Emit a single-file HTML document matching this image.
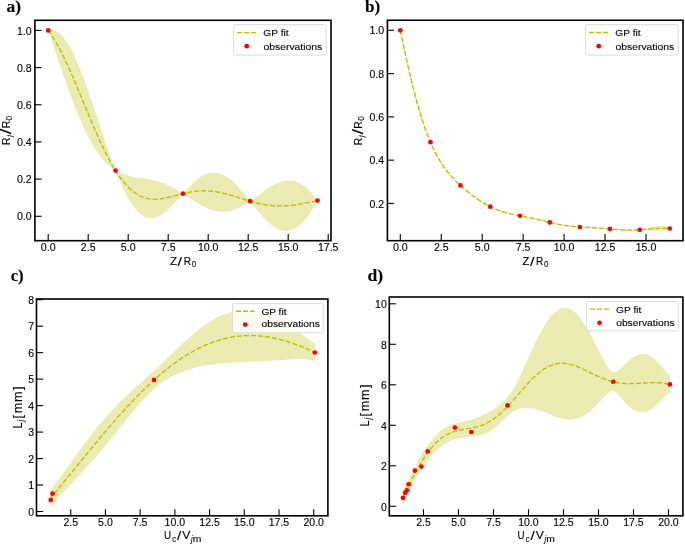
<!DOCTYPE html>
<html><head><meta charset="utf-8"><title>Gaussian process fits</title>
<style>html,body{margin:0;padding:0;background:#fff;}svg{display:block;}</style></head>
<body><svg width="685" height="544" viewBox="0 0 685 544">
<filter id="soft" x="0" y="0" width="1" height="1"><feGaussianBlur stdDeviation="0.25"/></filter>
<g filter="url(#soft)">
<rect width="685" height="544" fill="#fff"/>
<path d="M48.20,30.40 49.10,30.16 50.00,30.01 50.90,29.94 51.80,29.95 52.70,30.04 53.60,30.22 54.50,30.48 55.40,30.82 56.31,31.24 57.21,31.75 58.11,32.33 59.01,33.00 59.91,33.74 60.81,34.56 61.71,35.47 62.61,36.44 63.51,37.50 64.41,38.63 65.31,39.84 66.21,41.11 67.11,42.46 68.01,43.89 68.91,45.38 69.81,46.93 70.72,48.56 71.62,50.25 72.52,52.01 73.42,53.82 74.32,55.70 75.22,57.64 76.12,59.63 77.02,61.68 77.92,63.78 78.82,65.93 79.72,68.13 80.62,70.38 81.52,72.68 82.42,75.02 83.32,77.40 84.22,79.82 85.12,82.27 86.03,84.76 86.93,87.28 87.83,89.84 88.73,92.42 89.63,95.02 90.53,97.65 91.43,100.30 92.33,102.97 93.23,105.65 94.13,108.35 95.03,111.06 95.93,113.78 96.83,116.50 97.73,119.23 98.63,121.96 99.53,124.69 100.43,127.42 101.34,130.14 102.24,132.85 103.14,135.55 104.04,138.24 104.94,140.91 105.84,143.57 106.74,146.21 107.64,148.83 108.54,151.42 109.44,153.98 110.34,156.52 111.24,159.03 112.14,161.50 113.04,163.95 113.94,166.35 114.84,168.72 115.75,170.68 116.65,171.21 117.55,171.71 118.45,172.18 119.35,172.62 120.25,173.04 121.15,173.43 122.05,173.80 122.95,174.15 123.85,174.48 124.75,174.78 125.65,175.07 126.55,175.33 127.45,175.58 128.35,175.82 129.25,176.04 130.15,176.25 131.06,176.44 131.96,176.62 132.86,176.79 133.76,176.96 134.66,177.11 135.56,177.26 136.46,177.40 137.36,177.54 138.26,177.68 139.16,177.81 140.06,177.94 140.96,178.07 141.86,178.20 142.76,178.33 143.66,178.46 144.56,178.60 145.47,178.74 146.37,178.88 147.27,179.03 148.17,179.19 149.07,179.36 149.97,179.53 150.87,179.71 151.77,179.90 152.67,180.10 153.57,180.30 154.47,180.52 155.37,180.75 156.27,181.00 157.17,181.25 158.07,181.52 158.97,181.79 159.87,182.09 160.78,182.39 161.68,182.71 162.58,183.04 163.48,183.38 164.38,183.74 165.28,184.11 166.18,184.49 167.08,184.89 167.98,185.30 168.88,185.72 169.78,186.16 170.68,186.60 171.58,187.06 172.48,187.53 173.38,188.02 174.28,188.51 175.18,189.01 176.09,189.53 176.99,190.05 177.89,190.58 178.79,191.12 179.69,191.67 180.59,192.23 181.49,192.79 182.39,193.36 183.29,193.28 184.19,192.27 185.09,191.27 185.99,190.28 186.89,189.30 187.79,188.34 188.69,187.39 189.59,186.45 190.50,185.54 191.40,184.64 192.30,183.76 193.20,182.91 194.10,182.08 195.00,181.28 195.90,180.50 196.80,179.75 197.70,179.04 198.60,178.35 199.50,177.70 200.40,177.08 201.30,176.49 202.20,175.94 203.10,175.43 204.00,174.96 204.90,174.52 205.81,174.12 206.71,173.76 207.61,173.44 208.51,173.17 209.41,172.93 210.31,172.74 211.21,172.59 212.11,172.48 213.01,172.42 213.91,172.39 214.81,172.42 215.71,172.48 216.61,172.59 217.51,172.74 218.41,172.93 219.31,173.17 220.21,173.45 221.12,173.77 222.02,174.13 222.92,174.53 223.82,174.98 224.72,175.46 225.62,175.99 226.52,176.55 227.42,177.15 228.32,177.78 229.22,178.45 230.12,179.16 231.02,179.90 231.92,180.67 232.82,181.48 233.72,182.31 234.62,183.18 235.53,184.07 236.43,184.99 237.33,185.93 238.23,186.90 239.13,187.89 240.03,188.90 240.93,189.93 241.83,190.98 242.73,192.05 243.63,193.13 244.53,194.22 245.43,195.33 246.33,196.44 247.23,197.57 248.13,198.70 249.03,199.83 249.93,200.97 250.84,200.71 251.74,200.07 252.64,199.43 253.54,198.78 254.44,198.13 255.34,197.47 256.24,196.80 257.14,196.13 258.04,195.47 258.94,194.80 259.84,194.13 260.74,193.47 261.64,192.80 262.54,192.15 263.44,191.50 264.34,190.85 265.25,190.22 266.15,189.59 267.05,188.98 267.95,188.37 268.85,187.78 269.75,187.21 270.65,186.65 271.55,186.10 272.45,185.58 273.35,185.07 274.25,184.58 275.15,184.12 276.05,183.68 276.95,183.26 277.85,182.86 278.75,182.50 279.65,182.15 280.56,181.84 281.46,181.55 282.36,181.30 283.26,181.07 284.16,180.88 285.06,180.72 285.96,180.59 286.86,180.50 287.76,180.44 288.66,180.41 289.56,180.42 290.46,180.47 291.36,180.56 292.26,180.68 293.16,180.84 294.06,181.05 294.96,181.29 295.87,181.57 296.77,181.89 297.67,182.25 298.57,182.65 299.47,183.09 300.37,183.58 301.27,184.10 302.17,184.67 303.07,185.28 303.97,185.93 304.87,186.62 305.77,187.35 306.67,188.13 307.57,188.94 308.47,189.80 309.37,190.70 310.28,191.64 311.18,192.62 312.08,193.64 312.98,194.70 313.88,195.80 314.78,196.94 315.68,198.12 316.58,199.34 317.48,200.59 317.48,200.60 316.58,202.22 315.68,203.82 314.78,205.38 313.88,206.90 312.98,208.38 312.08,209.82 311.18,211.21 310.28,212.57 309.37,213.88 308.47,215.15 307.57,216.37 306.67,217.54 305.77,218.67 304.87,219.76 303.97,220.79 303.07,221.78 302.17,222.72 301.27,223.61 300.37,224.44 299.47,225.23 298.57,225.97 297.67,226.66 296.77,227.29 295.87,227.88 294.96,228.41 294.06,228.89 293.16,229.32 292.26,229.70 291.36,230.02 290.46,230.30 289.56,230.52 288.66,230.70 287.76,230.82 286.86,230.89 285.96,230.91 285.06,230.88 284.16,230.80 283.26,230.68 282.36,230.50 281.46,230.28 280.56,230.01 279.65,229.70 278.75,229.34 277.85,228.93 276.95,228.48 276.05,227.99 275.15,227.46 274.25,226.89 273.35,226.28 272.45,225.63 271.55,224.94 270.65,224.21 269.75,223.46 268.85,222.67 267.95,221.84 267.05,220.99 266.15,220.11 265.25,219.19 264.34,218.26 263.44,217.29 262.54,216.31 261.64,215.30 260.74,214.27 259.84,213.23 258.94,212.17 258.04,211.09 257.14,210.00 256.24,208.89 255.34,207.78 254.44,206.65 253.54,205.52 252.64,204.39 251.74,203.25 250.84,202.11 249.93,201.33 249.03,201.95 248.13,202.55 247.23,203.14 246.33,203.72 245.43,204.28 244.53,204.83 243.63,205.37 242.73,205.88 241.83,206.38 240.93,206.86 240.03,207.32 239.13,207.76 238.23,208.18 237.33,208.58 236.43,208.96 235.53,209.32 234.62,209.65 233.72,209.96 232.82,210.25 231.92,210.51 231.02,210.75 230.12,210.96 229.22,211.15 228.32,211.31 227.42,211.45 226.52,211.56 225.62,211.65 224.72,211.71 223.82,211.75 222.92,211.76 222.02,211.75 221.12,211.71 220.21,211.64 219.31,211.55 218.41,211.44 217.51,211.30 216.61,211.14 215.71,210.95 214.81,210.74 213.91,210.51 213.01,210.25 212.11,209.98 211.21,209.68 210.31,209.36 209.41,209.03 208.51,208.67 207.61,208.29 206.71,207.90 205.81,207.49 204.90,207.06 204.00,206.61 203.10,206.15 202.20,205.68 201.30,205.19 200.40,204.69 199.50,204.18 198.60,203.66 197.70,203.12 196.80,202.58 195.90,202.03 195.00,201.47 194.10,200.91 193.20,200.34 192.30,199.76 191.40,199.18 190.50,198.60 189.59,198.02 188.69,197.43 187.79,196.84 186.89,196.26 185.99,195.67 185.09,195.09 184.19,194.51 183.29,193.93 182.39,194.29 181.49,195.31 180.59,196.32 179.69,197.34 178.79,198.36 177.89,199.37 176.99,200.37 176.09,201.37 175.18,202.35 174.28,203.33 173.38,204.29 172.48,205.23 171.58,206.16 170.68,207.07 169.78,207.95 168.88,208.81 167.98,209.64 167.08,210.45 166.18,211.23 165.28,211.97 164.38,212.68 163.48,213.36 162.58,214.00 161.68,214.60 160.78,215.16 159.87,215.68 158.97,216.15 158.07,216.58 157.17,216.97 156.27,217.30 155.37,217.59 154.47,217.82 153.57,218.00 152.67,218.13 151.77,218.20 150.87,218.22 149.97,218.18 149.07,218.08 148.17,217.92 147.27,217.70 146.37,217.43 145.47,217.09 144.56,216.68 143.66,216.22 142.76,215.69 141.86,215.10 140.96,214.45 140.06,213.73 139.16,212.94 138.26,212.09 137.36,211.18 136.46,210.20 135.56,209.16 134.66,208.05 133.76,206.88 132.86,205.65 131.96,204.35 131.06,202.99 130.15,201.56 129.25,200.08 128.35,198.53 127.45,196.92 126.55,195.26 125.65,193.53 124.75,191.75 123.85,189.91 122.95,188.02 122.05,186.07 121.15,184.07 120.25,182.02 119.35,179.92 118.45,177.77 117.55,175.57 116.65,173.33 115.75,171.04 114.84,170.12 113.94,169.53 113.04,168.91 112.14,168.26 111.24,167.57 110.34,166.85 109.44,166.10 108.54,165.30 107.64,164.47 106.74,163.61 105.84,162.70 104.94,161.76 104.04,160.77 103.14,159.75 102.24,158.69 101.34,157.58 100.43,156.44 99.53,155.25 98.63,154.02 97.73,152.75 96.83,151.44 95.93,150.08 95.03,148.68 94.13,147.24 93.23,145.76 92.33,144.23 91.43,142.66 90.53,141.05 89.63,139.39 88.73,137.70 87.83,135.96 86.93,134.18 86.03,132.36 85.12,130.49 84.22,128.59 83.32,126.65 82.42,124.67 81.52,122.65 80.62,120.60 79.72,118.50 78.82,116.37 77.92,114.21 77.02,112.01 76.12,109.77 75.22,107.51 74.32,105.21 73.42,102.88 72.52,100.52 71.62,98.14 70.72,95.72 69.81,93.28 68.91,90.82 68.01,88.33 67.11,85.82 66.21,83.29 65.31,80.74 64.41,78.16 63.51,75.58 62.61,72.97 61.71,70.36 60.81,67.73 59.91,65.08 59.01,62.43 58.11,59.77 57.21,57.11 56.31,54.43 55.40,51.76 54.50,49.08 53.60,46.40 52.70,43.72 51.80,41.05 50.90,38.38 50.00,35.71 49.10,33.05 48.20,30.40Z" fill="#ececb2"/>
<path d="M48.20,30.40 49.10,31.61 50.00,32.86 50.90,34.16 51.80,35.50 52.70,36.88 53.60,38.31 54.50,39.78 55.40,41.29 56.31,42.84 57.21,44.43 58.11,46.05 59.01,47.71 59.91,49.41 60.81,51.14 61.71,52.91 62.61,54.71 63.51,56.54 64.41,58.40 65.31,60.29 66.21,62.20 67.11,64.14 68.01,66.11 68.91,68.10 69.81,70.11 70.72,72.14 71.62,74.19 72.52,76.26 73.42,78.35 74.32,80.46 75.22,82.57 76.12,84.70 77.02,86.84 77.92,88.99 78.82,91.15 79.72,93.32 80.62,95.49 81.52,97.67 82.42,99.84 83.32,102.02 84.22,104.20 85.12,106.38 86.03,108.56 86.93,110.73 87.83,112.90 88.73,115.06 89.63,117.21 90.53,119.35 91.43,121.48 92.33,123.60 93.23,125.71 94.13,127.80 95.03,129.87 95.93,131.93 96.83,133.97 97.73,135.99 98.63,137.99 99.53,139.97 100.43,141.93 101.34,143.86 102.24,145.77 103.14,147.65 104.04,149.51 104.94,151.34 105.84,153.14 106.74,154.91 107.64,156.65 108.54,158.36 109.44,160.04 110.34,161.69 111.24,163.30 112.14,164.88 113.04,166.43 113.94,167.94 114.84,169.42 115.75,170.86 116.65,172.27 117.55,173.64 118.45,174.97 119.35,176.27 120.25,177.53 121.15,178.75 122.05,179.94 122.95,181.08 123.85,182.19 124.75,183.27 125.65,184.30 126.55,185.30 127.45,186.25 128.35,187.17 129.25,188.06 130.15,188.90 131.06,189.71 131.96,190.49 132.86,191.22 133.76,191.92 134.66,192.58 135.56,193.21 136.46,193.80 137.36,194.36 138.26,194.89 139.16,195.38 140.06,195.83 140.96,196.26 141.86,196.65 142.76,197.01 143.66,197.34 144.56,197.64 145.47,197.91 146.37,198.15 147.27,198.37 148.17,198.56 149.07,198.72 149.97,198.85 150.87,198.96 151.77,199.05 152.67,199.11 153.57,199.15 154.47,199.17 155.37,199.17 156.27,199.15 157.17,199.11 158.07,199.05 158.97,198.97 159.87,198.88 160.78,198.78 161.68,198.65 162.58,198.52 163.48,198.37 164.38,198.21 165.28,198.04 166.18,197.86 167.08,197.67 167.98,197.47 168.88,197.27 169.78,197.05 170.68,196.83 171.58,196.61 172.48,196.38 173.38,196.15 174.28,195.92 175.18,195.68 176.09,195.45 176.99,195.21 177.89,194.98 178.79,194.74 179.69,194.51 180.59,194.28 181.49,194.05 182.39,193.82 183.29,193.60 184.19,193.39 185.09,193.18 185.99,192.98 186.89,192.78 187.79,192.59 188.69,192.41 189.59,192.23 190.50,192.07 191.40,191.91 192.30,191.76 193.20,191.62 194.10,191.49 195.00,191.38 195.90,191.27 196.80,191.17 197.70,191.08 198.60,191.00 199.50,190.94 200.40,190.89 201.30,190.84 202.20,190.81 203.10,190.79 204.00,190.78 204.90,190.79 205.81,190.80 206.71,190.83 207.61,190.87 208.51,190.92 209.41,190.98 210.31,191.05 211.21,191.14 212.11,191.23 213.01,191.34 213.91,191.45 214.81,191.58 215.71,191.72 216.61,191.86 217.51,192.02 218.41,192.19 219.31,192.36 220.21,192.54 221.12,192.74 222.02,192.94 222.92,193.15 223.82,193.36 224.72,193.59 225.62,193.82 226.52,194.05 227.42,194.30 228.32,194.55 229.22,194.80 230.12,195.06 231.02,195.32 231.92,195.59 232.82,195.86 233.72,196.14 234.62,196.41 235.53,196.69 236.43,196.97 237.33,197.26 238.23,197.54 239.13,197.83 240.03,198.11 240.93,198.40 241.83,198.68 242.73,198.96 243.63,199.25 244.53,199.53 245.43,199.81 246.33,200.08 247.23,200.35 248.13,200.62 249.03,200.89 249.93,201.15 250.84,201.41 251.74,201.66 252.64,201.91 253.54,202.15 254.44,202.39 255.34,202.62 256.24,202.85 257.14,203.07 258.04,203.28 258.94,203.48 259.84,203.68 260.74,203.87 261.64,204.05 262.54,204.23 263.44,204.40 264.34,204.55 265.25,204.71 266.15,204.85 267.05,204.98 267.95,205.11 268.85,205.22 269.75,205.33 270.65,205.43 271.55,205.52 272.45,205.60 273.35,205.67 274.25,205.74 275.15,205.79 276.05,205.83 276.95,205.87 277.85,205.90 278.75,205.92 279.65,205.92 280.56,205.93 281.46,205.92 282.36,205.90 283.26,205.88 284.16,205.84 285.06,205.80 285.96,205.75 286.86,205.69 287.76,205.63 288.66,205.55 289.56,205.47 290.46,205.39 291.36,205.29 292.26,205.19 293.16,205.08 294.06,204.97 294.96,204.85 295.87,204.72 296.77,204.59 297.67,204.45 298.57,204.31 299.47,204.16 300.37,204.01 301.27,203.85 302.17,203.69 303.07,203.53 303.97,203.36 304.87,203.19 305.77,203.01 306.67,202.84 307.57,202.66 308.47,202.47 309.37,202.29 310.28,202.10 311.18,201.92 312.08,201.73 312.98,201.54 313.88,201.35 314.78,201.16 315.68,200.97 316.58,200.78 317.48,200.59" fill="none" stroke="#bfbf00" stroke-width="1.35" stroke-dasharray="5.0,2.05"/>
<circle cx="48.20" cy="30.40" r="2.35" fill="#ff0000"/>
<circle cx="115.56" cy="170.57" r="2.35" fill="#ff0000"/>
<circle cx="182.92" cy="193.69" r="2.35" fill="#ff0000"/>
<circle cx="250.12" cy="201.20" r="2.35" fill="#ff0000"/>
<circle cx="317.48" cy="200.59" r="2.35" fill="#ff0000"/>
<rect x="233.60" y="24.70" width="92.50" height="30.40" rx="2" fill="#fff" fill-opacity="0.8" stroke="#dcdcdc" stroke-width="1"/>
<line x1="237.10" y1="32.55" x2="256.25" y2="32.55" stroke="#bfbf00" stroke-width="1.35" stroke-dasharray="5.0,2.05"/>
<circle cx="246.70" cy="46.20" r="2.35" fill="#ff0000"/>
<rect x="34.90" y="20.30" width="296.10" height="220.40" fill="none" stroke="#000" stroke-width="1.6"/>
<line x1="48.20" y1="240.70" x2="48.20" y2="234.10" stroke="#000" stroke-width="1.1"/>
<line x1="88.20" y1="240.70" x2="88.20" y2="234.10" stroke="#000" stroke-width="1.1"/>
<line x1="128.20" y1="240.70" x2="128.20" y2="234.10" stroke="#000" stroke-width="1.1"/>
<line x1="168.20" y1="240.70" x2="168.20" y2="234.10" stroke="#000" stroke-width="1.1"/>
<line x1="208.20" y1="240.70" x2="208.20" y2="234.10" stroke="#000" stroke-width="1.1"/>
<line x1="248.20" y1="240.70" x2="248.20" y2="234.10" stroke="#000" stroke-width="1.1"/>
<line x1="288.20" y1="240.70" x2="288.20" y2="234.10" stroke="#000" stroke-width="1.1"/>
<line x1="328.20" y1="240.70" x2="328.20" y2="234.10" stroke="#000" stroke-width="1.1"/>
<line x1="34.90" y1="216.30" x2="41.50" y2="216.30" stroke="#000" stroke-width="1.1"/>
<line x1="34.90" y1="179.12" x2="41.50" y2="179.12" stroke="#000" stroke-width="1.1"/>
<line x1="34.90" y1="141.94" x2="41.50" y2="141.94" stroke="#000" stroke-width="1.1"/>
<line x1="34.90" y1="104.76" x2="41.50" y2="104.76" stroke="#000" stroke-width="1.1"/>
<line x1="34.90" y1="67.58" x2="41.50" y2="67.58" stroke="#000" stroke-width="1.1"/>
<line x1="34.90" y1="30.40" x2="41.50" y2="30.40" stroke="#000" stroke-width="1.1"/>
<path d="M400.30,30.30 400.98,33.23 401.65,36.16 402.33,39.10 403.00,42.05 403.68,45.00 404.35,47.94 405.03,50.89 405.70,53.82 406.38,56.75 407.05,59.67 407.73,62.57 408.40,65.46 409.08,68.34 409.75,71.19 410.43,74.03 411.11,76.84 411.78,79.62 412.46,82.38 413.13,85.11 413.81,87.82 414.48,90.49 415.16,93.13 415.83,95.73 416.51,98.30 417.18,100.84 417.86,103.33 418.53,105.79 419.21,108.21 419.88,110.59 420.56,112.93 421.23,115.22 421.91,117.48 422.59,119.69 423.26,121.86 423.94,123.98 424.61,126.06 425.29,128.10 425.96,130.09 426.64,132.04 427.31,133.94 427.99,135.80 428.66,137.62 429.34,139.39 430.01,141.11 430.69,142.73 431.36,144.19 432.04,145.62 432.72,147.01 433.39,148.37 434.07,149.71 434.74,151.01 435.42,152.28 436.09,153.52 436.77,154.73 437.44,155.92 438.12,157.08 438.79,158.22 439.47,159.33 440.14,160.42 440.82,161.49 441.49,162.53 442.17,163.56 442.84,164.56 443.52,165.55 444.20,166.51 444.87,167.46 445.55,168.39 446.22,169.30 446.90,170.19 447.57,171.08 448.25,171.94 448.92,172.79 449.60,173.63 450.27,174.45 450.95,175.26 451.62,176.06 452.30,176.85 452.97,177.62 453.65,178.38 454.33,179.13 455.00,179.87 455.68,180.60 456.35,181.33 457.03,182.04 457.70,182.74 458.38,183.43 459.05,184.11 459.73,184.78 460.40,185.44 461.08,186.01 461.75,186.57 462.43,187.13 463.10,187.68 463.78,188.22 464.45,188.76 465.13,189.30 465.81,189.83 466.48,190.36 467.16,190.88 467.83,191.40 468.51,191.92 469.18,192.44 469.86,192.95 470.53,193.46 471.21,193.97 471.88,194.48 472.56,194.98 473.23,195.48 473.91,195.98 474.58,196.47 475.26,196.96 475.94,197.45 476.61,197.93 477.29,198.41 477.96,198.89 478.64,199.36 479.31,199.83 479.99,200.30 480.66,200.76 481.34,201.22 482.01,201.67 482.69,202.11 483.36,202.55 484.04,202.99 484.71,203.42 485.39,203.84 486.07,204.25 486.74,204.66 487.42,205.07 488.09,205.46 488.77,205.85 489.44,206.23 490.12,206.60 490.79,206.92 491.47,207.22 492.14,207.51 492.82,207.79 493.49,208.07 494.17,208.34 494.84,208.61 495.52,208.87 496.19,209.12 496.87,209.37 497.55,209.61 498.22,209.85 498.90,210.08 499.57,210.30 500.25,210.53 500.92,210.74 501.60,210.96 502.27,211.17 502.95,211.37 503.62,211.57 504.30,211.77 504.97,211.96 505.65,212.15 506.32,212.34 507.00,212.53 507.68,212.71 508.35,212.89 509.03,213.07 509.70,213.24 510.38,213.41 511.05,213.59 511.73,213.76 512.40,213.92 513.08,214.09 513.75,214.26 514.43,214.42 515.10,214.58 515.78,214.75 516.45,214.91 517.13,215.07 517.80,215.23 518.48,215.39 519.16,215.55 519.83,215.71 520.51,215.83 521.18,215.94 521.86,216.04 522.53,216.15 523.21,216.26 523.88,216.37 524.56,216.48 525.23,216.60 525.91,216.71 526.58,216.83 527.26,216.95 527.93,217.07 528.61,217.20 529.29,217.33 529.96,217.46 530.64,217.59 531.31,217.73 531.99,217.87 532.66,218.01 533.34,218.16 534.01,218.31 534.69,218.46 535.36,218.61 536.04,218.77 536.71,218.94 537.39,219.10 538.06,219.27 538.74,219.44 539.42,219.61 540.09,219.79 540.77,219.96 541.44,220.14 542.12,220.32 542.79,220.51 543.47,220.69 544.14,220.88 544.82,221.06 545.49,221.25 546.17,221.44 546.84,221.63 547.52,221.82 548.19,222.00 548.87,222.19 549.54,222.38 550.22,222.54 550.90,222.67 551.57,222.80 552.25,222.93 552.92,223.06 553.60,223.18 554.27,223.31 554.95,223.43 555.62,223.55 556.30,223.67 556.97,223.79 557.65,223.91 558.32,224.02 559.00,224.14 559.67,224.25 560.35,224.36 561.03,224.47 561.70,224.58 562.38,224.69 563.05,224.79 563.73,224.89 564.40,225.00 565.08,225.10 565.75,225.20 566.43,225.30 567.10,225.39 567.78,225.49 568.45,225.58 569.13,225.68 569.80,225.77 570.48,225.86 571.15,225.95 571.83,226.04 572.51,226.13 573.18,226.22 573.86,226.30 574.53,226.38 575.21,226.47 575.88,226.55 576.56,226.63 577.23,226.71 577.91,226.79 578.58,226.87 579.26,226.94 579.93,227.01 580.61,227.02 581.28,227.03 581.96,227.04 582.64,227.05 583.31,227.05 583.99,227.06 584.66,227.06 585.34,227.07 586.01,227.08 586.69,227.08 587.36,227.09 588.04,227.10 588.71,227.11 589.39,227.12 590.06,227.14 590.74,227.15 591.41,227.17 592.09,227.19 592.76,227.22 593.44,227.24 594.12,227.27 594.79,227.31 595.47,227.34 596.14,227.38 596.82,227.43 597.49,227.48 598.17,227.53 598.84,227.58 599.52,227.64 600.19,227.70 600.87,227.77 601.54,227.84 602.22,227.91 602.89,227.99 603.57,228.07 604.25,228.15 604.92,228.24 605.60,228.32 606.27,228.42 606.95,228.51 607.62,228.61 608.30,228.70 608.97,228.81 609.65,228.91 610.32,228.96 611.00,228.97 611.67,228.98 612.35,228.99 613.02,228.99 613.70,229.00 614.38,229.01 615.05,229.01 615.73,229.02 616.40,229.02 617.08,229.03 617.75,229.03 618.43,229.04 619.10,229.04 619.78,229.05 620.45,229.05 621.13,229.06 621.80,229.07 622.48,229.08 623.15,229.08 623.83,229.09 624.50,229.11 625.18,229.12 625.86,229.13 626.53,229.15 627.21,229.16 627.88,229.18 628.56,229.20 629.23,229.23 629.91,229.25 630.58,229.28 631.26,229.30 631.93,229.33 632.61,229.36 633.28,229.40 633.96,229.43 634.63,229.47 635.31,229.51 635.99,229.55 636.66,229.60 637.34,229.64 638.01,229.69 638.69,229.74 639.36,229.79 640.04,229.77 640.71,229.63 641.39,229.49 642.06,229.34 642.74,229.18 643.41,229.02 644.09,228.86 644.76,228.69 645.44,228.52 646.11,228.35 646.79,228.18 647.47,228.01 648.14,227.84 648.82,227.67 649.49,227.50 650.17,227.33 650.84,227.17 651.52,227.01 652.19,226.86 652.87,226.72 653.54,226.58 654.22,226.45 654.89,226.34 655.57,226.23 656.24,226.13 656.92,226.05 657.60,225.99 658.27,225.93 658.95,225.90 659.62,225.88 660.30,225.88 660.97,225.90 661.65,225.94 662.32,226.01 663.00,226.10 663.67,226.21 664.35,226.35 665.02,226.51 665.70,226.71 666.37,226.93 667.05,227.18 667.73,227.47 668.40,227.79 669.08,228.14 669.75,228.52 669.75,228.53 669.08,228.79 668.40,229.03 667.73,229.26 667.05,229.47 666.37,229.66 665.70,229.84 665.02,230.00 664.35,230.14 663.67,230.27 663.00,230.38 662.32,230.48 661.65,230.57 660.97,230.64 660.30,230.70 659.62,230.76 658.95,230.80 658.27,230.83 657.60,230.85 656.92,230.87 656.24,230.87 655.57,230.87 654.89,230.86 654.22,230.85 653.54,230.82 652.87,230.80 652.19,230.77 651.52,230.73 650.84,230.69 650.17,230.65 649.49,230.60 648.82,230.55 648.14,230.50 647.47,230.45 646.79,230.40 646.11,230.34 645.44,230.29 644.76,230.23 644.09,230.17 643.41,230.12 642.74,230.06 642.06,230.00 641.39,229.95 640.71,229.89 640.04,229.84 639.36,229.90 638.69,230.03 638.01,230.15 637.34,230.26 636.66,230.36 635.99,230.46 635.31,230.55 634.63,230.63 633.96,230.70 633.28,230.76 632.61,230.82 631.93,230.86 631.26,230.90 630.58,230.93 629.91,230.95 629.23,230.96 628.56,230.97 627.88,230.96 627.21,230.95 626.53,230.94 625.86,230.91 625.18,230.88 624.50,230.84 623.83,230.79 623.15,230.74 622.48,230.68 621.80,230.61 621.13,230.54 620.45,230.47 619.78,230.39 619.10,230.31 618.43,230.22 617.75,230.13 617.08,230.03 616.40,229.94 615.73,229.84 615.05,229.74 614.38,229.64 613.70,229.53 613.02,229.43 612.35,229.32 611.67,229.22 611.00,229.11 610.32,229.01 609.65,228.95 608.97,228.94 608.30,228.93 607.62,228.91 606.95,228.90 606.27,228.88 605.60,228.86 604.92,228.84 604.25,228.82 603.57,228.80 602.89,228.77 602.22,228.75 601.54,228.72 600.87,228.69 600.19,228.66 599.52,228.63 598.84,228.60 598.17,228.56 597.49,228.52 596.82,228.48 596.14,228.44 595.47,228.40 594.79,228.36 594.12,228.31 593.44,228.26 592.76,228.22 592.09,228.17 591.41,228.11 590.74,228.06 590.06,228.01 589.39,227.95 588.71,227.89 588.04,227.83 587.36,227.77 586.69,227.71 586.01,227.65 585.34,227.58 584.66,227.52 583.99,227.45 583.31,227.38 582.64,227.31 581.96,227.24 581.28,227.17 580.61,227.09 579.93,227.02 579.26,227.00 578.58,226.98 577.91,226.96 577.23,226.94 576.56,226.92 575.88,226.89 575.21,226.86 574.53,226.83 573.86,226.79 573.18,226.75 572.51,226.71 571.83,226.66 571.15,226.60 570.48,226.54 569.80,226.48 569.13,226.41 568.45,226.33 567.78,226.26 567.10,226.17 566.43,226.08 565.75,225.99 565.08,225.89 564.40,225.78 563.73,225.67 563.05,225.56 562.38,225.44 561.70,225.31 561.03,225.18 560.35,225.05 559.67,224.91 559.00,224.76 558.32,224.61 557.65,224.46 556.97,224.30 556.30,224.14 555.62,223.98 554.95,223.81 554.27,223.64 553.60,223.47 552.92,223.29 552.25,223.11 551.57,222.93 550.90,222.75 550.22,222.57 549.54,222.40 548.87,222.27 548.19,222.13 547.52,221.99 546.84,221.85 546.17,221.71 545.49,221.57 544.82,221.43 544.14,221.29 543.47,221.14 542.79,220.99 542.12,220.85 541.44,220.70 540.77,220.55 540.09,220.40 539.42,220.25 538.74,220.10 538.06,219.94 537.39,219.79 536.71,219.64 536.04,219.48 535.36,219.33 534.69,219.17 534.01,219.02 533.34,218.86 532.66,218.70 531.99,218.55 531.31,218.39 530.64,218.23 529.96,218.07 529.29,217.92 528.61,217.76 527.93,217.60 527.26,217.44 526.58,217.29 525.91,217.13 525.23,216.97 524.56,216.81 523.88,216.66 523.21,216.50 522.53,216.34 521.86,216.18 521.18,216.02 520.51,215.87 519.83,215.72 519.16,215.61 518.48,215.51 517.80,215.40 517.13,215.29 516.45,215.18 515.78,215.06 515.10,214.95 514.43,214.83 513.75,214.71 513.08,214.59 512.40,214.46 511.73,214.33 511.05,214.19 510.38,214.05 509.70,213.91 509.03,213.76 508.35,213.60 507.68,213.44 507.00,213.28 506.32,213.10 505.65,212.92 504.97,212.74 504.30,212.54 503.62,212.34 502.95,212.13 502.27,211.92 501.60,211.69 500.92,211.46 500.25,211.22 499.57,210.97 498.90,210.72 498.22,210.45 497.55,210.18 496.87,209.89 496.19,209.60 495.52,209.30 494.84,209.00 494.17,208.68 493.49,208.35 492.82,208.02 492.14,207.68 491.47,207.33 490.79,206.97 490.12,206.62 489.44,206.30 488.77,205.99 488.09,205.66 487.42,205.33 486.74,204.99 486.07,204.64 485.39,204.28 484.71,203.92 484.04,203.54 483.36,203.17 482.69,202.78 482.01,202.38 481.34,201.98 480.66,201.57 479.99,201.15 479.31,200.72 478.64,200.28 477.96,199.84 477.29,199.39 476.61,198.93 475.94,198.46 475.26,197.98 474.58,197.49 473.91,197.00 473.23,196.50 472.56,195.99 471.88,195.47 471.21,194.95 470.53,194.42 469.86,193.87 469.18,193.32 468.51,192.77 467.83,192.20 467.16,191.63 466.48,191.05 465.81,190.46 465.13,189.86 464.45,189.25 463.78,188.64 463.10,188.02 462.43,187.39 461.75,186.75 461.08,186.10 460.40,185.45 459.73,184.88 459.05,184.30 458.38,183.71 457.70,183.12 457.03,182.51 456.35,181.90 455.68,181.28 455.00,180.64 454.33,179.99 453.65,179.34 452.97,178.66 452.30,177.98 451.62,177.28 450.95,176.56 450.27,175.82 449.60,175.07 448.92,174.30 448.25,173.51 447.57,172.70 446.90,171.87 446.22,171.01 445.55,170.13 444.87,169.23 444.20,168.30 443.52,167.34 442.84,166.36 442.17,165.34 441.49,164.30 440.82,163.23 440.14,162.12 439.47,160.98 438.79,159.81 438.12,158.60 437.44,157.36 436.77,156.08 436.09,154.76 435.42,153.41 434.74,152.01 434.07,150.58 433.39,149.11 432.72,147.59 432.04,146.04 431.36,144.44 430.69,142.80 430.01,141.23 429.34,139.70 428.66,138.13 427.99,136.52 427.31,134.88 426.64,133.19 425.96,131.47 425.29,129.70 424.61,127.89 423.94,126.04 423.26,124.14 422.59,122.20 421.91,120.21 421.23,118.18 420.56,116.10 419.88,113.98 419.21,111.80 418.53,109.58 417.86,107.31 417.18,104.99 416.51,102.62 415.83,100.20 415.16,97.72 414.48,95.20 413.81,92.62 413.13,90.00 412.46,87.32 411.78,84.58 411.11,81.80 410.43,78.96 409.75,76.07 409.08,73.13 408.40,70.14 407.73,67.09 407.05,64.00 406.38,60.85 405.70,57.65 405.03,54.40 404.35,51.10 403.68,47.76 403.00,44.36 402.33,40.91 401.65,37.42 400.98,33.88 400.30,30.30Z" fill="#ececb2"/>
<path d="M400.30,30.30 400.98,33.56 401.65,36.79 402.33,40.01 403.00,43.20 403.68,46.38 404.35,49.52 405.03,52.64 405.70,55.74 406.38,58.80 407.05,61.83 407.73,64.83 408.40,67.80 409.08,70.74 409.75,73.63 410.43,76.49 411.11,79.32 411.78,82.10 412.46,84.85 413.13,87.55 413.81,90.22 414.48,92.84 415.16,95.43 415.83,97.96 416.51,100.46 417.18,102.91 417.86,105.32 418.53,107.69 419.21,110.01 419.88,112.28 420.56,114.52 421.23,116.70 421.91,118.85 422.59,120.94 423.26,123.00 423.94,125.01 424.61,126.98 425.29,128.90 425.96,130.78 426.64,132.61 427.31,134.41 427.99,136.16 428.66,137.87 429.34,139.54 430.01,141.17 430.69,142.76 431.36,144.31 432.04,145.83 432.72,147.30 433.39,148.74 434.07,150.14 434.74,151.51 435.42,152.84 436.09,154.14 436.77,155.41 437.44,156.64 438.12,157.84 438.79,159.01 439.47,160.16 440.14,161.27 440.82,162.36 441.49,163.42 442.17,164.45 442.84,165.46 443.52,166.44 444.20,167.40 444.87,168.34 445.55,169.26 446.22,170.16 446.90,171.03 447.57,171.89 448.25,172.73 448.92,173.55 449.60,174.35 450.27,175.14 450.95,175.91 451.62,176.67 452.30,177.41 452.97,178.14 453.65,178.86 454.33,179.56 455.00,180.26 455.68,180.94 456.35,181.61 457.03,182.27 457.70,182.93 458.38,183.57 459.05,184.20 459.73,184.83 460.40,185.45 461.08,186.06 461.75,186.66 462.43,187.26 463.10,187.85 463.78,188.43 464.45,189.01 465.13,189.58 465.81,190.14 466.48,190.70 467.16,191.26 467.83,191.80 468.51,192.35 469.18,192.88 469.86,193.41 470.53,193.94 471.21,194.46 471.88,194.98 472.56,195.48 473.23,195.99 473.91,196.49 474.58,196.98 475.26,197.47 475.94,197.95 476.61,198.43 477.29,198.90 477.96,199.36 478.64,199.82 479.31,200.28 479.99,200.72 480.66,201.16 481.34,201.60 482.01,202.02 482.69,202.44 483.36,202.86 484.04,203.27 484.71,203.67 485.39,204.06 486.07,204.45 486.74,204.83 487.42,205.20 488.09,205.56 488.77,205.92 489.44,206.27 490.12,206.61 490.79,206.95 491.47,207.27 492.14,207.59 492.82,207.91 493.49,208.21 494.17,208.51 494.84,208.80 495.52,209.09 496.19,209.36 496.87,209.63 497.55,209.89 498.22,210.15 498.90,210.40 499.57,210.64 500.25,210.87 500.92,211.10 501.60,211.32 502.27,211.54 502.95,211.75 503.62,211.96 504.30,212.16 504.97,212.35 505.65,212.54 506.32,212.72 507.00,212.90 507.68,213.08 508.35,213.25 509.03,213.41 509.70,213.58 510.38,213.73 511.05,213.89 511.73,214.04 512.40,214.19 513.08,214.34 513.75,214.48 514.43,214.63 515.10,214.77 515.78,214.90 516.45,215.04 517.13,215.18 517.80,215.31 518.48,215.45 519.16,215.58 519.83,215.71 520.51,215.85 521.18,215.98 521.86,216.11 522.53,216.25 523.21,216.38 523.88,216.51 524.56,216.65 525.23,216.78 525.91,216.92 526.58,217.06 527.26,217.20 527.93,217.34 528.61,217.48 529.29,217.62 529.96,217.77 530.64,217.91 531.31,218.06 531.99,218.21 532.66,218.36 533.34,218.51 534.01,218.66 534.69,218.82 535.36,218.97 536.04,219.13 536.71,219.29 537.39,219.44 538.06,219.61 538.74,219.77 539.42,219.93 540.09,220.09 540.77,220.26 541.44,220.42 542.12,220.59 542.79,220.75 543.47,220.92 544.14,221.08 544.82,221.25 545.49,221.41 546.17,221.58 546.84,221.74 547.52,221.91 548.19,222.07 548.87,222.23 549.54,222.39 550.22,222.55 550.90,222.71 551.57,222.87 552.25,223.02 552.92,223.17 553.60,223.32 554.27,223.47 554.95,223.62 555.62,223.77 556.30,223.91 556.97,224.05 557.65,224.18 558.32,224.32 559.00,224.45 559.67,224.58 560.35,224.70 561.03,224.83 561.70,224.94 562.38,225.06 563.05,225.17 563.73,225.28 564.40,225.39 565.08,225.49 565.75,225.59 566.43,225.69 567.10,225.78 567.78,225.87 568.45,225.96 569.13,226.04 569.80,226.12 570.48,226.20 571.15,226.28 571.83,226.35 572.51,226.42 573.18,226.48 573.86,226.55 574.53,226.61 575.21,226.67 575.88,226.72 576.56,226.78 577.23,226.83 577.91,226.88 578.58,226.92 579.26,226.97 579.93,227.01 580.61,227.06 581.28,227.10 581.96,227.14 582.64,227.18 583.31,227.22 583.99,227.25 584.66,227.29 585.34,227.33 586.01,227.36 586.69,227.40 587.36,227.43 588.04,227.47 588.71,227.50 589.39,227.54 590.06,227.57 590.74,227.61 591.41,227.64 592.09,227.68 592.76,227.72 593.44,227.75 594.12,227.79 594.79,227.83 595.47,227.87 596.14,227.91 596.82,227.96 597.49,228.00 598.17,228.04 598.84,228.09 599.52,228.13 600.19,228.18 600.87,228.23 601.54,228.28 602.22,228.33 602.89,228.38 603.57,228.43 604.25,228.49 604.92,228.54 605.60,228.59 606.27,228.65 606.95,228.70 607.62,228.76 608.30,228.82 608.97,228.87 609.65,228.93 610.32,228.99 611.00,229.04 611.67,229.10 612.35,229.15 613.02,229.21 613.70,229.27 614.38,229.32 615.05,229.37 615.73,229.43 616.40,229.48 617.08,229.53 617.75,229.58 618.43,229.63 619.10,229.67 619.78,229.72 620.45,229.76 621.13,229.80 621.80,229.84 622.48,229.88 623.15,229.91 623.83,229.94 624.50,229.97 625.18,230.00 625.86,230.02 626.53,230.04 627.21,230.06 627.88,230.07 628.56,230.09 629.23,230.09 629.91,230.10 630.58,230.10 631.26,230.10 631.93,230.10 632.61,230.09 633.28,230.08 633.96,230.07 634.63,230.05 635.31,230.03 635.99,230.01 636.66,229.98 637.34,229.95 638.01,229.92 638.69,229.88 639.36,229.85 640.04,229.80 640.71,229.76 641.39,229.72 642.06,229.67 642.74,229.62 643.41,229.57 644.09,229.52 644.76,229.46 645.44,229.40 646.11,229.35 646.79,229.29 647.47,229.23 648.14,229.17 648.82,229.11 649.49,229.05 650.17,228.99 650.84,228.93 651.52,228.87 652.19,228.81 652.87,228.76 653.54,228.70 654.22,228.65 654.89,228.60 655.57,228.55 656.24,228.50 656.92,228.46 657.60,228.42 658.27,228.38 658.95,228.35 659.62,228.32 660.30,228.29 660.97,228.27 661.65,228.26 662.32,228.24 663.00,228.24 663.67,228.24 664.35,228.24 665.02,228.25 665.70,228.27 666.37,228.30 667.05,228.33 667.73,228.37 668.40,228.41 669.08,228.46 669.75,228.52" fill="none" stroke="#bfbf00" stroke-width="1.35" stroke-dasharray="5.0,2.05"/>
<circle cx="400.30" cy="30.30" r="2.35" fill="#ff0000"/>
<circle cx="430.44" cy="142.18" r="2.35" fill="#ff0000"/>
<circle cx="460.41" cy="185.46" r="2.35" fill="#ff0000"/>
<circle cx="490.23" cy="206.67" r="2.35" fill="#ff0000"/>
<circle cx="520.04" cy="215.75" r="2.35" fill="#ff0000"/>
<circle cx="549.85" cy="222.46" r="2.35" fill="#ff0000"/>
<circle cx="579.82" cy="227.01" r="2.35" fill="#ff0000"/>
<circle cx="609.96" cy="228.96" r="2.35" fill="#ff0000"/>
<circle cx="639.78" cy="229.82" r="2.35" fill="#ff0000"/>
<circle cx="669.75" cy="228.52" r="2.35" fill="#ff0000"/>
<rect x="585.60" y="24.65" width="92.50" height="30.40" rx="2" fill="#fff" fill-opacity="0.8" stroke="#dcdcdc" stroke-width="1"/>
<line x1="589.10" y1="32.50" x2="608.25" y2="32.50" stroke="#bfbf00" stroke-width="1.35" stroke-dasharray="5.0,2.05"/>
<circle cx="598.70" cy="46.15" r="2.35" fill="#ff0000"/>
<rect x="387.40" y="20.25" width="295.60" height="220.45" fill="none" stroke="#000" stroke-width="1.6"/>
<line x1="400.30" y1="240.70" x2="400.30" y2="234.10" stroke="#000" stroke-width="1.1"/>
<line x1="441.25" y1="240.70" x2="441.25" y2="234.10" stroke="#000" stroke-width="1.1"/>
<line x1="482.20" y1="240.70" x2="482.20" y2="234.10" stroke="#000" stroke-width="1.1"/>
<line x1="523.15" y1="240.70" x2="523.15" y2="234.10" stroke="#000" stroke-width="1.1"/>
<line x1="564.10" y1="240.70" x2="564.10" y2="234.10" stroke="#000" stroke-width="1.1"/>
<line x1="605.05" y1="240.70" x2="605.05" y2="234.10" stroke="#000" stroke-width="1.1"/>
<line x1="646.00" y1="240.70" x2="646.00" y2="234.10" stroke="#000" stroke-width="1.1"/>
<line x1="387.40" y1="203.42" x2="394.00" y2="203.42" stroke="#000" stroke-width="1.1"/>
<line x1="387.40" y1="160.14" x2="394.00" y2="160.14" stroke="#000" stroke-width="1.1"/>
<line x1="387.40" y1="116.86" x2="394.00" y2="116.86" stroke="#000" stroke-width="1.1"/>
<line x1="387.40" y1="73.58" x2="394.00" y2="73.58" stroke="#000" stroke-width="1.1"/>
<line x1="387.40" y1="30.30" x2="394.00" y2="30.30" stroke="#000" stroke-width="1.1"/>
<path d="M49.61,490.84 50.27,490.09 50.94,489.33 51.60,488.56 52.27,487.77 52.93,486.96 53.60,486.15 54.26,485.32 54.93,484.48 55.59,483.63 56.26,482.77 56.92,481.90 57.58,481.02 58.25,480.13 58.91,479.24 59.58,478.33 60.24,477.43 60.91,476.51 61.57,475.59 62.24,474.67 62.90,473.75 63.57,472.82 64.23,471.88 64.90,470.95 65.56,470.01 66.23,469.07 66.89,468.13 67.56,467.19 68.22,466.25 68.89,465.31 69.55,464.37 70.21,463.43 70.88,462.49 71.54,461.55 72.21,460.62 72.87,459.68 73.54,458.75 74.20,457.81 74.87,456.88 75.53,455.95 76.20,455.03 76.86,454.10 77.53,453.18 78.19,452.26 78.86,451.34 79.52,450.43 80.19,449.52 80.85,448.61 81.51,447.70 82.18,446.80 82.84,445.90 83.51,445.01 84.17,444.12 84.84,443.23 85.50,442.34 86.17,441.46 86.83,440.58 87.50,439.71 88.16,438.84 88.83,437.98 89.49,437.11 90.16,436.26 90.82,435.40 91.49,434.55 92.15,433.70 92.81,432.86 93.48,432.02 94.14,431.19 94.81,430.36 95.47,429.54 96.14,428.71 96.80,427.90 97.47,427.08 98.13,426.28 98.80,425.47 99.46,424.67 100.13,423.88 100.79,423.09 101.46,422.30 102.12,421.52 102.79,420.74 103.45,419.96 104.12,419.19 104.78,418.43 105.44,417.67 106.11,416.91 106.77,416.16 107.44,415.41 108.10,414.67 108.77,413.93 109.43,413.20 110.10,412.47 110.76,411.74 111.43,411.02 112.09,410.30 112.76,409.59 113.42,408.88 114.09,408.17 114.75,407.47 115.42,406.78 116.08,406.08 116.74,405.40 117.41,404.71 118.07,404.03 118.74,403.36 119.40,402.68 120.07,402.01 120.73,401.35 121.40,400.69 122.06,400.03 122.73,399.38 123.39,398.73 124.06,398.08 124.72,397.44 125.39,396.80 126.05,396.17 126.72,395.53 127.38,394.90 128.05,394.28 128.71,393.66 129.37,393.04 130.04,392.42 130.70,391.80 131.37,391.19 132.03,390.58 132.70,389.98 133.36,389.37 134.03,388.77 134.69,388.17 135.36,387.57 136.02,386.97 136.69,386.38 137.35,385.79 138.02,385.19 138.68,384.60 139.35,384.01 140.01,383.42 140.67,382.84 141.34,382.25 142.00,381.66 142.67,381.08 143.33,380.49 144.00,379.90 144.66,379.31 145.33,378.73 145.99,378.14 146.66,377.55 147.32,376.96 147.99,376.37 148.65,375.77 149.32,375.18 149.98,374.58 150.65,373.99 151.31,373.39 151.97,372.79 152.64,372.18 153.30,371.58 153.97,370.97 154.63,370.36 155.30,369.75 155.96,369.13 156.63,368.51 157.29,367.89 157.96,367.27 158.62,366.65 159.29,366.02 159.95,365.39 160.62,364.76 161.28,364.13 161.95,363.49 162.61,362.86 163.28,362.22 163.94,361.58 164.60,360.93 165.27,360.29 165.93,359.65 166.60,359.00 167.26,358.35 167.93,357.71 168.59,357.06 169.26,356.41 169.92,355.76 170.59,355.11 171.25,354.47 171.92,353.82 172.58,353.17 173.25,352.52 173.91,351.88 174.58,351.23 175.24,350.59 175.90,349.95 176.57,349.31 177.23,348.67 177.90,348.03 178.56,347.39 179.23,346.76 179.89,346.13 180.56,345.50 181.22,344.87 181.89,344.25 182.55,343.63 183.22,343.01 183.88,342.40 184.55,341.78 185.21,341.18 185.88,340.57 186.54,339.97 187.20,339.37 187.87,338.78 188.53,338.19 189.20,337.60 189.86,337.02 190.53,336.44 191.19,335.87 191.86,335.30 192.52,334.73 193.19,334.17 193.85,333.61 194.52,333.06 195.18,332.52 195.85,331.97 196.51,331.44 197.18,330.90 197.84,330.38 198.51,329.86 199.17,329.34 199.83,328.83 200.50,328.32 201.16,327.82 201.83,327.33 202.49,326.84 203.16,326.35 203.82,325.88 204.49,325.41 205.15,324.94 205.82,324.48 206.48,324.02 207.15,323.58 207.81,323.13 208.48,322.70 209.14,322.27 209.81,321.84 210.47,321.43 211.13,321.02 211.80,320.61 212.46,320.21 213.13,319.82 213.79,319.44 214.46,319.06 215.12,318.69 215.79,318.32 216.45,317.96 217.12,317.61 217.78,317.27 218.45,316.93 219.11,316.60 219.78,316.27 220.44,315.96 221.11,315.65 221.77,315.34 222.44,315.05 223.10,314.76 223.76,314.48 224.43,314.20 225.09,313.94 225.76,313.68 226.42,313.42 227.09,313.18 227.75,312.94 228.42,312.71 229.08,312.49 229.75,312.27 230.41,312.06 231.08,311.86 231.74,311.67 232.41,311.49 233.07,311.31 233.74,311.14 234.40,310.98 235.06,310.82 235.73,310.67 236.39,310.53 237.06,310.40 237.72,310.28 238.39,310.16 239.05,310.06 239.72,309.95 240.38,309.86 241.05,309.78 241.71,309.70 242.38,309.63 243.04,309.57 243.71,309.52 244.37,309.47 245.04,309.44 245.70,309.41 246.36,309.39 247.03,309.37 247.69,309.37 248.36,309.37 249.02,309.38 249.69,309.40 250.35,309.43 251.02,309.46 251.68,309.51 252.35,309.56 253.01,309.62 253.68,309.68 254.34,309.76 255.01,309.84 255.67,309.93 256.34,310.03 257.00,310.14 257.67,310.26 258.33,310.38 258.99,310.51 259.66,310.65 260.32,310.80 260.99,310.96 261.65,311.12 262.32,311.29 262.98,311.47 263.65,311.66 264.31,311.85 264.98,312.06 265.64,312.27 266.31,312.49 266.97,312.72 267.64,312.95 268.30,313.20 268.97,313.45 269.63,313.71 270.29,313.97 270.96,314.25 271.62,314.53 272.29,314.82 272.95,315.12 273.62,315.42 274.28,315.74 274.95,316.06 275.61,316.38 276.28,316.72 276.94,317.06 277.61,317.41 278.27,317.77 278.94,318.14 279.60,318.51 280.27,318.89 280.93,319.28 281.59,319.67 282.26,320.07 282.92,320.48 283.59,320.89 284.25,321.31 284.92,321.74 285.58,322.18 286.25,322.62 286.91,323.07 287.58,323.52 288.24,323.98 288.91,324.45 289.57,324.92 290.24,325.39 290.90,325.88 291.57,326.37 292.23,326.86 292.90,327.36 293.56,327.86 294.22,328.37 294.89,328.88 295.55,329.40 296.22,329.92 296.88,330.44 297.55,330.97 298.21,331.49 298.88,332.02 299.54,332.56 300.21,333.09 300.87,333.62 301.54,334.16 302.20,334.69 302.87,335.22 303.53,335.75 304.20,336.28 304.86,336.81 305.52,337.32 306.19,337.84 306.85,338.34 307.52,338.84 308.18,339.33 308.85,339.80 309.51,340.27 310.18,340.72 310.84,341.16 311.51,341.58 312.17,341.98 312.84,342.36 313.50,342.72 314.17,343.06 314.83,343.38 314.83,361.61 314.17,361.29 313.50,361.00 312.84,360.74 312.17,360.49 311.51,360.28 310.84,360.08 310.18,359.91 309.51,359.76 308.85,359.62 308.18,359.51 307.52,359.41 306.85,359.32 306.19,359.25 305.52,359.19 304.86,359.14 304.20,359.10 303.53,359.07 302.87,359.05 302.20,359.03 301.54,359.02 300.87,359.02 300.21,359.03 299.54,359.04 298.88,359.05 298.21,359.07 297.55,359.09 296.88,359.11 296.22,359.14 295.55,359.17 294.89,359.20 294.22,359.24 293.56,359.28 292.90,359.31 292.23,359.35 291.57,359.39 290.90,359.43 290.24,359.47 289.57,359.52 288.91,359.56 288.24,359.60 287.58,359.65 286.91,359.69 286.25,359.74 285.58,359.78 284.92,359.83 284.25,359.87 283.59,359.91 282.92,359.96 282.26,360.00 281.59,360.05 280.93,360.09 280.27,360.13 279.60,360.17 278.94,360.22 278.27,360.26 277.61,360.30 276.94,360.34 276.28,360.38 275.61,360.42 274.95,360.46 274.28,360.50 273.62,360.54 272.95,360.58 272.29,360.62 271.62,360.65 270.96,360.69 270.29,360.73 269.63,360.76 268.97,360.80 268.30,360.83 267.64,360.87 266.97,360.90 266.31,360.93 265.64,360.97 264.98,361.00 264.31,361.03 263.65,361.06 262.98,361.09 262.32,361.13 261.65,361.16 260.99,361.19 260.32,361.22 259.66,361.25 258.99,361.28 258.33,361.31 257.67,361.34 257.00,361.36 256.34,361.39 255.67,361.42 255.01,361.45 254.34,361.48 253.68,361.51 253.01,361.54 252.35,361.56 251.68,361.59 251.02,361.62 250.35,361.65 249.69,361.68 249.02,361.71 248.36,361.74 247.69,361.77 247.03,361.79 246.36,361.82 245.70,361.85 245.04,361.88 244.37,361.91 243.71,361.95 243.04,361.98 242.38,362.01 241.71,362.04 241.05,362.07 240.38,362.11 239.72,362.14 239.05,362.17 238.39,362.21 237.72,362.24 237.06,362.28 236.39,362.32 235.73,362.36 235.06,362.39 234.40,362.43 233.74,362.47 233.07,362.52 232.41,362.56 231.74,362.60 231.08,362.65 230.41,362.69 229.75,362.74 229.08,362.79 228.42,362.83 227.75,362.89 227.09,362.94 226.42,362.99 225.76,363.04 225.09,363.10 224.43,363.16 223.76,363.21 223.10,363.27 222.44,363.34 221.77,363.40 221.11,363.46 220.44,363.53 219.78,363.60 219.11,363.67 218.45,363.74 217.78,363.81 217.12,363.89 216.45,363.97 215.79,364.05 215.12,364.13 214.46,364.21 213.79,364.30 213.13,364.38 212.46,364.47 211.80,364.57 211.13,364.66 210.47,364.76 209.81,364.86 209.14,364.96 208.48,365.06 207.81,365.17 207.15,365.28 206.48,365.39 205.82,365.51 205.15,365.63 204.49,365.75 203.82,365.87 203.16,366.00 202.49,366.13 201.83,366.26 201.16,366.40 200.50,366.54 199.83,366.68 199.17,366.82 198.51,366.97 197.84,367.12 197.18,367.28 196.51,367.44 195.85,367.60 195.18,367.77 194.52,367.94 193.85,368.11 193.19,368.29 192.52,368.47 191.86,368.66 191.19,368.85 190.53,369.04 189.86,369.24 189.20,369.45 188.53,369.65 187.87,369.86 187.20,370.08 186.54,370.30 185.88,370.53 185.21,370.76 184.55,370.99 183.88,371.23 183.22,371.48 182.55,371.73 181.89,371.99 181.22,372.25 180.56,372.52 179.89,372.79 179.23,373.07 178.56,373.35 177.90,373.64 177.23,373.94 176.57,374.24 175.90,374.55 175.24,374.87 174.58,375.19 173.91,375.52 173.25,375.86 172.58,376.20 171.92,376.55 171.25,376.91 170.59,377.27 169.92,377.65 169.26,378.03 168.59,378.42 167.93,378.81 167.26,379.22 166.60,379.63 165.93,380.05 165.27,380.48 164.60,380.92 163.94,381.37 163.28,381.83 162.61,382.29 161.95,382.77 161.28,383.25 160.62,383.74 159.95,384.25 159.29,384.76 158.62,385.28 157.96,385.81 157.29,386.35 156.63,386.90 155.96,387.46 155.30,388.03 154.63,388.61 153.97,389.19 153.30,389.79 152.64,390.40 151.97,391.01 151.31,391.63 150.65,392.27 149.98,392.91 149.32,393.55 148.65,394.21 147.99,394.88 147.32,395.55 146.66,396.23 145.99,396.92 145.33,397.61 144.66,398.31 144.00,399.02 143.33,399.74 142.67,400.46 142.00,401.18 141.34,401.92 140.67,402.66 140.01,403.40 139.35,404.15 138.68,404.90 138.02,405.66 137.35,406.42 136.69,407.19 136.02,407.96 135.36,408.74 134.69,409.52 134.03,410.30 133.36,411.09 132.70,411.88 132.03,412.67 131.37,413.47 130.70,414.26 130.04,415.06 129.37,415.87 128.71,416.67 128.05,417.48 127.38,418.29 126.72,419.10 126.05,419.91 125.39,420.72 124.72,421.54 124.06,422.36 123.39,423.17 122.73,423.99 122.06,424.81 121.40,425.63 120.73,426.45 120.07,427.27 119.40,428.09 118.74,428.92 118.07,429.74 117.41,430.56 116.74,431.38 116.08,432.20 115.42,433.03 114.75,433.85 114.09,434.67 113.42,435.49 112.76,436.31 112.09,437.13 111.43,437.95 110.76,438.77 110.10,439.58 109.43,440.40 108.77,441.21 108.10,442.03 107.44,442.84 106.77,443.65 106.11,444.46 105.44,445.27 104.78,446.08 104.12,446.89 103.45,447.69 102.79,448.49 102.12,449.29 101.46,450.09 100.79,450.89 100.13,451.69 99.46,452.48 98.80,453.27 98.13,454.06 97.47,454.85 96.80,455.63 96.14,456.42 95.47,457.20 94.81,457.97 94.14,458.75 93.48,459.53 92.81,460.30 92.15,461.07 91.49,461.83 90.82,462.60 90.16,463.36 89.49,464.12 88.83,464.87 88.16,465.63 87.50,466.38 86.83,467.13 86.17,467.87 85.50,468.62 84.84,469.36 84.17,470.09 83.51,470.83 82.84,471.56 82.18,472.29 81.51,473.02 80.85,473.74 80.19,474.47 79.52,475.19 78.86,475.90 78.19,476.62 77.53,477.33 76.86,478.04 76.20,478.74 75.53,479.45 74.87,480.15 74.20,480.85 73.54,481.55 72.87,482.25 72.21,482.94 71.54,483.64 70.88,484.33 70.21,485.02 69.55,485.71 68.89,486.39 68.22,487.08 67.56,487.77 66.89,488.45 66.23,489.14 65.56,489.82 64.90,490.51 64.23,491.20 63.57,491.89 62.90,492.58 62.24,493.27 61.57,493.96 60.91,494.66 60.24,495.36 59.58,496.07 58.91,496.78 58.25,497.49 57.58,498.21 56.92,498.94 56.26,499.67 55.59,500.41 54.93,501.16 54.26,501.92 53.60,502.69 52.93,503.47 52.27,504.26 51.60,505.06 50.94,505.87 50.27,506.69 49.61,507.53Z" fill="#ececb2"/>
<path d="M49.61,499.18 50.27,498.39 50.94,497.60 51.60,496.81 52.27,496.01 52.93,495.22 53.60,494.42 54.26,493.62 54.93,492.82 55.59,492.02 56.26,491.22 56.92,490.42 57.58,489.62 58.25,488.81 58.91,488.01 59.58,487.20 60.24,486.39 60.91,485.59 61.57,484.78 62.24,483.97 62.90,483.16 63.57,482.35 64.23,481.54 64.90,480.73 65.56,479.92 66.23,479.11 66.89,478.29 67.56,477.48 68.22,476.67 68.89,475.85 69.55,475.04 70.21,474.22 70.88,473.41 71.54,472.59 72.21,471.78 72.87,470.96 73.54,470.15 74.20,469.33 74.87,468.52 75.53,467.70 76.20,466.89 76.86,466.07 77.53,465.25 78.19,464.44 78.86,463.62 79.52,462.81 80.19,461.99 80.85,461.18 81.51,460.36 82.18,459.55 82.84,458.73 83.51,457.92 84.17,457.11 84.84,456.29 85.50,455.48 86.17,454.67 86.83,453.86 87.50,453.04 88.16,452.23 88.83,451.42 89.49,450.62 90.16,449.81 90.82,449.00 91.49,448.19 92.15,447.39 92.81,446.58 93.48,445.77 94.14,444.97 94.81,444.17 95.47,443.37 96.14,442.56 96.80,441.76 97.47,440.97 98.13,440.17 98.80,439.37 99.46,438.58 100.13,437.78 100.79,436.99 101.46,436.20 102.12,435.40 102.79,434.62 103.45,433.83 104.12,433.04 104.78,432.25 105.44,431.47 106.11,430.69 106.77,429.91 107.44,429.13 108.10,428.35 108.77,427.57 109.43,426.80 110.10,426.02 110.76,425.25 111.43,424.48 112.09,423.71 112.76,422.95 113.42,422.18 114.09,421.42 114.75,420.66 115.42,419.90 116.08,419.14 116.74,418.39 117.41,417.64 118.07,416.88 118.74,416.14 119.40,415.39 120.07,414.64 120.73,413.90 121.40,413.16 122.06,412.42 122.73,411.69 123.39,410.95 124.06,410.22 124.72,409.49 125.39,408.76 126.05,408.04 126.72,407.32 127.38,406.60 128.05,405.88 128.71,405.16 129.37,404.45 130.04,403.74 130.70,403.03 131.37,402.33 132.03,401.63 132.70,400.93 133.36,400.23 134.03,399.54 134.69,398.84 135.36,398.16 136.02,397.47 136.69,396.79 137.35,396.11 138.02,395.43 138.68,394.75 139.35,394.08 140.01,393.41 140.67,392.75 141.34,392.08 142.00,391.42 142.67,390.77 143.33,390.11 144.00,389.46 144.66,388.81 145.33,388.17 145.99,387.53 146.66,386.89 147.32,386.25 147.99,385.62 148.65,384.99 149.32,384.37 149.98,383.74 150.65,383.13 151.31,382.51 151.97,381.90 152.64,381.29 153.30,380.68 153.97,380.08 154.63,379.48 155.30,378.89 155.96,378.30 156.63,377.71 157.29,377.12 157.96,376.54 158.62,375.96 159.29,375.39 159.95,374.82 160.62,374.25 161.28,373.69 161.95,373.13 162.61,372.57 163.28,372.02 163.94,371.47 164.60,370.93 165.27,370.39 165.93,369.85 166.60,369.32 167.26,368.79 167.93,368.26 168.59,367.74 169.26,367.22 169.92,366.70 170.59,366.19 171.25,365.69 171.92,365.18 172.58,364.69 173.25,364.19 173.91,363.70 174.58,363.21 175.24,362.73 175.90,362.25 176.57,361.77 177.23,361.30 177.90,360.84 178.56,360.37 179.23,359.91 179.89,359.46 180.56,359.01 181.22,358.56 181.89,358.12 182.55,357.68 183.22,357.25 183.88,356.82 184.55,356.39 185.21,355.97 185.88,355.55 186.54,355.14 187.20,354.73 187.87,354.32 188.53,353.92 189.20,353.52 189.86,353.13 190.53,352.74 191.19,352.36 191.86,351.98 192.52,351.60 193.19,351.23 193.85,350.86 194.52,350.50 195.18,350.14 195.85,349.79 196.51,349.44 197.18,349.09 197.84,348.75 198.51,348.41 199.17,348.08 199.83,347.75 200.50,347.43 201.16,347.11 201.83,346.79 202.49,346.48 203.16,346.18 203.82,345.87 204.49,345.58 205.15,345.28 205.82,344.99 206.48,344.71 207.15,344.43 207.81,344.15 208.48,343.88 209.14,343.61 209.81,343.35 210.47,343.09 211.13,342.84 211.80,342.59 212.46,342.34 213.13,342.10 213.79,341.87 214.46,341.63 215.12,341.41 215.79,341.18 216.45,340.96 217.12,340.75 217.78,340.54 218.45,340.33 219.11,340.13 219.78,339.94 220.44,339.74 221.11,339.55 221.77,339.37 222.44,339.19 223.10,339.02 223.76,338.85 224.43,338.68 225.09,338.52 225.76,338.36 226.42,338.21 227.09,338.06 227.75,337.91 228.42,337.77 229.08,337.64 229.75,337.50 230.41,337.38 231.08,337.25 231.74,337.14 232.41,337.02 233.07,336.91 233.74,336.81 234.40,336.70 235.06,336.61 235.73,336.51 236.39,336.43 237.06,336.34 237.72,336.26 238.39,336.19 239.05,336.11 239.72,336.05 240.38,335.98 241.05,335.93 241.71,335.87 242.38,335.82 243.04,335.77 243.71,335.73 244.37,335.69 245.04,335.66 245.70,335.63 246.36,335.61 247.03,335.58 247.69,335.57 248.36,335.55 249.02,335.54 249.69,335.54 250.35,335.54 251.02,335.54 251.68,335.55 252.35,335.56 253.01,335.58 253.68,335.60 254.34,335.62 255.01,335.65 255.67,335.68 256.34,335.71 257.00,335.75 257.67,335.80 258.33,335.84 258.99,335.89 259.66,335.95 260.32,336.01 260.99,336.07 261.65,336.14 262.32,336.21 262.98,336.28 263.65,336.36 264.31,336.44 264.98,336.53 265.64,336.62 266.31,336.71 266.97,336.81 267.64,336.91 268.30,337.01 268.97,337.12 269.63,337.23 270.29,337.35 270.96,337.47 271.62,337.59 272.29,337.72 272.95,337.85 273.62,337.98 274.28,338.12 274.95,338.26 275.61,338.40 276.28,338.55 276.94,338.70 277.61,338.86 278.27,339.02 278.94,339.18 279.60,339.34 280.27,339.51 280.93,339.68 281.59,339.86 282.26,340.04 282.92,340.22 283.59,340.40 284.25,340.59 284.92,340.78 285.58,340.98 286.25,341.18 286.91,341.38 287.58,341.58 288.24,341.79 288.91,342.00 289.57,342.22 290.24,342.43 290.90,342.66 291.57,342.88 292.23,343.11 292.90,343.34 293.56,343.57 294.22,343.80 294.89,344.04 295.55,344.28 296.22,344.53 296.88,344.78 297.55,345.03 298.21,345.28 298.88,345.54 299.54,345.80 300.21,346.06 300.87,346.32 301.54,346.59 302.20,346.86 302.87,347.13 303.53,347.41 304.20,347.69 304.86,347.97 305.52,348.25 306.19,348.54 306.85,348.83 307.52,349.12 308.18,349.42 308.85,349.71 309.51,350.01 310.18,350.31 310.84,350.62 311.51,350.93 312.17,351.24 312.84,351.55 313.50,351.86 314.17,352.18 314.83,352.50" fill="none" stroke="#bfbf00" stroke-width="1.35" stroke-dasharray="5.0,2.05"/>
<circle cx="50.66" cy="500.01" r="2.35" fill="#ff0000"/>
<circle cx="52.52" cy="493.71" r="2.35" fill="#ff0000"/>
<circle cx="154.03" cy="379.92" r="2.35" fill="#ff0000"/>
<circle cx="314.83" cy="352.49" r="2.35" fill="#ff0000"/>
<rect x="232.40" y="303.60" width="91.00" height="29.20" rx="2" fill="#fff" fill-opacity="0.8" stroke="#dcdcdc" stroke-width="1"/>
<line x1="236.00" y1="311.20" x2="254.40" y2="311.20" stroke="#bfbf00" stroke-width="1.35" stroke-dasharray="5.0,2.05"/>
<circle cx="245.20" cy="324.60" r="2.35" fill="#ff0000"/>
<rect x="36.50" y="299.00" width="291.40" height="216.80" fill="none" stroke="#000" stroke-width="1.6"/>
<line x1="70.72" y1="515.80" x2="70.72" y2="509.20" stroke="#000" stroke-width="1.1"/>
<line x1="105.43" y1="515.80" x2="105.43" y2="509.20" stroke="#000" stroke-width="1.1"/>
<line x1="140.14" y1="515.80" x2="140.14" y2="509.20" stroke="#000" stroke-width="1.1"/>
<line x1="174.86" y1="515.80" x2="174.86" y2="509.20" stroke="#000" stroke-width="1.1"/>
<line x1="209.57" y1="515.80" x2="209.57" y2="509.20" stroke="#000" stroke-width="1.1"/>
<line x1="244.29" y1="515.80" x2="244.29" y2="509.20" stroke="#000" stroke-width="1.1"/>
<line x1="279.00" y1="515.80" x2="279.00" y2="509.20" stroke="#000" stroke-width="1.1"/>
<line x1="313.72" y1="515.80" x2="313.72" y2="509.20" stroke="#000" stroke-width="1.1"/>
<line x1="36.50" y1="511.50" x2="43.10" y2="511.50" stroke="#000" stroke-width="1.1"/>
<line x1="36.50" y1="485.02" x2="43.10" y2="485.02" stroke="#000" stroke-width="1.1"/>
<line x1="36.50" y1="458.55" x2="43.10" y2="458.55" stroke="#000" stroke-width="1.1"/>
<line x1="36.50" y1="432.07" x2="43.10" y2="432.07" stroke="#000" stroke-width="1.1"/>
<line x1="36.50" y1="405.60" x2="43.10" y2="405.60" stroke="#000" stroke-width="1.1"/>
<line x1="36.50" y1="379.12" x2="43.10" y2="379.12" stroke="#000" stroke-width="1.1"/>
<line x1="36.50" y1="352.65" x2="43.10" y2="352.65" stroke="#000" stroke-width="1.1"/>
<line x1="36.50" y1="326.17" x2="43.10" y2="326.17" stroke="#000" stroke-width="1.1"/>
<line x1="36.50" y1="299.70" x2="43.10" y2="299.70" stroke="#000" stroke-width="1.1"/>
<path d="M402.50,490.60 403.17,489.39 403.84,488.15 404.51,486.90 405.18,485.64 405.85,484.35 406.52,483.06 407.19,481.76 407.86,480.44 408.53,479.13 409.20,477.80 409.87,476.48 410.54,475.16 411.21,473.83 411.88,472.52 412.55,471.20 413.22,469.90 413.89,468.60 414.56,467.31 415.23,466.03 415.90,464.77 416.57,463.51 417.24,462.27 417.91,461.05 418.58,459.84 419.25,458.64 419.92,457.46 420.59,456.30 421.26,455.16 421.94,454.03 422.61,452.92 423.28,451.84 423.95,450.77 424.62,449.71 425.29,448.68 425.96,447.67 426.63,446.68 427.30,445.71 427.97,444.76 428.64,443.83 429.31,442.92 429.98,442.04 430.65,441.17 431.32,440.33 431.99,439.50 432.66,438.70 433.33,437.92 434.00,437.17 434.67,436.43 435.34,435.72 436.01,435.02 436.68,434.35 437.35,433.71 438.02,433.08 438.69,432.47 439.36,431.89 440.03,431.33 440.70,430.78 441.37,430.26 442.04,429.76 442.71,429.28 443.38,428.82 444.05,428.38 444.72,427.96 445.39,427.56 446.06,427.17 446.73,426.81 447.40,426.46 448.07,426.13 448.74,425.81 449.41,425.51 450.08,425.23 450.75,424.96 451.42,424.70 452.09,424.46 452.76,424.23 453.43,424.01 454.10,423.80 454.77,423.60 455.44,423.41 456.11,423.23 456.78,423.06 457.45,422.89 458.12,422.73 458.79,422.58 459.46,422.43 460.14,422.28 460.81,422.14 461.48,421.99 462.15,421.85 462.82,421.71 463.49,421.57 464.16,421.43 464.83,421.28 465.50,421.13 466.17,420.98 466.84,420.83 467.51,420.67 468.18,420.51 468.85,420.34 469.52,420.17 470.19,419.99 470.86,419.80 471.53,419.61 472.20,419.42 472.87,419.21 473.54,419.00 474.21,418.78 474.88,418.55 475.55,418.32 476.22,418.08 476.89,417.83 477.56,417.58 478.23,417.31 478.90,417.04 479.57,416.76 480.24,416.48 480.91,416.19 481.58,415.88 482.25,415.58 482.92,415.26 483.59,414.94 484.26,414.61 484.93,414.28 485.60,413.93 486.27,413.58 486.94,413.23 487.61,412.86 488.28,412.49 488.95,412.12 489.62,411.73 490.29,411.34 490.96,410.94 491.63,410.54 492.30,410.12 492.97,409.70 493.64,409.27 494.31,408.84 494.98,408.39 495.65,407.93 496.32,407.47 496.99,406.99 497.66,406.50 498.34,406.00 499.01,405.49 499.68,404.96 500.35,404.42 501.02,403.86 501.69,403.28 502.36,402.68 503.03,402.06 503.70,401.41 504.37,400.75 505.04,400.05 505.71,399.32 506.38,398.57 507.05,397.78 507.72,396.96 508.39,396.11 509.06,395.22 509.73,394.30 510.40,393.34 511.07,392.34 511.74,391.31 512.41,390.24 513.08,389.14 513.75,388.01 514.42,386.85 515.09,385.65 515.76,384.43 516.43,383.17 517.10,381.90 517.77,380.59 518.44,379.27 519.11,377.92 519.78,376.56 520.45,375.17 521.12,373.77 521.79,372.36 522.46,370.93 523.13,369.49 523.80,368.04 524.47,366.58 525.14,365.11 525.81,363.64 526.48,362.16 527.15,360.68 527.82,359.19 528.49,357.71 529.16,356.23 529.83,354.75 530.50,353.27 531.17,351.80 531.84,350.34 532.51,348.88 533.18,347.43 533.85,346.00 534.52,344.57 535.19,343.15 535.86,341.75 536.54,340.37 537.21,339.00 537.88,337.64 538.55,336.31 539.22,334.99 539.89,333.70 540.56,332.43 541.23,331.18 541.90,329.95 542.57,328.75 543.24,327.57 543.91,326.42 544.58,325.29 545.25,324.20 545.92,323.13 546.59,322.10 547.26,321.09 547.93,320.12 548.60,319.18 549.27,318.27 549.94,317.40 550.61,316.56 551.28,315.75 551.95,314.98 552.62,314.25 553.29,313.55 553.96,312.89 554.63,312.27 555.30,311.69 555.97,311.15 556.64,310.64 557.31,310.18 557.98,309.75 558.65,309.37 559.32,309.02 559.99,308.72 560.66,308.46 561.33,308.23 562.00,308.05 562.67,307.91 563.34,307.81 564.01,307.75 564.68,307.73 565.35,307.76 566.02,307.82 566.69,307.93 567.36,308.07 568.03,308.26 568.70,308.49 569.37,308.75 570.04,309.06 570.71,309.41 571.38,309.79 572.05,310.21 572.72,310.67 573.39,311.17 574.06,311.71 574.74,312.28 575.41,312.89 576.08,313.54 576.75,314.22 577.42,314.93 578.09,315.68 578.76,316.46 579.43,317.27 580.10,318.11 580.77,318.99 581.44,319.89 582.11,320.83 582.78,321.79 583.45,322.78 584.12,323.80 584.79,324.84 585.46,325.90 586.13,326.99 586.80,328.11 587.47,329.24 588.14,330.40 588.81,331.57 589.48,332.76 590.15,333.97 590.82,335.20 591.49,336.44 592.16,337.70 592.83,338.97 593.50,340.24 594.17,341.53 594.84,342.83 595.51,344.14 596.18,345.45 596.85,346.77 597.52,348.09 598.19,349.41 598.86,350.73 599.53,352.05 600.20,353.36 600.87,354.67 601.54,355.97 602.21,357.26 602.88,358.53 603.55,359.79 604.22,361.03 604.89,362.25 605.56,363.43 606.23,364.59 606.90,365.70 607.57,366.76 608.24,367.77 608.91,368.72 609.58,369.59 610.25,370.37 610.92,371.05 611.59,371.61 612.26,372.05 612.94,372.36 613.61,372.54 614.28,372.58 614.95,372.50 615.62,372.31 616.29,372.02 616.96,371.65 617.63,371.21 618.30,370.71 618.97,370.17 619.64,369.59 620.31,368.99 620.98,368.36 621.65,367.72 622.32,367.07 622.99,366.41 623.66,365.76 624.33,365.10 625.00,364.45 625.67,363.81 626.34,363.17 627.01,362.54 627.68,361.93 628.35,361.33 629.02,360.75 629.69,360.18 630.36,359.63 631.03,359.10 631.70,358.59 632.37,358.11 633.04,357.64 633.71,357.20 634.38,356.78 635.05,356.39 635.72,356.03 636.39,355.69 637.06,355.37 637.73,355.09 638.40,354.84 639.07,354.61 639.74,354.42 640.41,354.25 641.08,354.12 641.75,354.02 642.42,353.95 643.09,353.92 643.76,353.91 644.43,353.95 645.10,354.01 645.77,354.11 646.44,354.24 647.11,354.41 647.78,354.62 648.45,354.86 649.12,355.13 649.79,355.44 650.46,355.79 651.14,356.17 651.81,356.58 652.48,357.04 653.15,357.52 653.82,358.04 654.49,358.60 655.16,359.19 655.83,359.81 656.50,360.47 657.17,361.16 657.84,361.88 658.51,362.62 659.18,363.40 659.85,364.20 660.52,365.03 661.19,365.88 661.86,366.74 662.53,367.62 663.20,368.51 663.87,369.40 664.54,370.29 665.21,371.15 665.88,371.99 666.55,372.78 667.22,373.51 667.89,374.14 668.56,374.67 669.23,375.05 669.90,375.28 669.90,393.88 669.23,393.75 668.56,393.79 667.89,394.00 667.22,394.33 666.55,394.78 665.88,395.30 665.21,395.90 664.54,396.53 663.87,397.21 663.20,397.90 662.53,398.62 661.86,399.33 661.19,400.05 660.52,400.77 659.85,401.48 659.18,402.19 658.51,402.88 657.84,403.55 657.17,404.21 656.50,404.85 655.83,405.47 655.16,406.07 654.49,406.64 653.82,407.19 653.15,407.72 652.48,408.22 651.81,408.70 651.14,409.15 650.46,409.57 649.79,409.96 649.12,410.33 648.45,410.66 647.78,410.97 647.11,411.24 646.44,411.49 645.77,411.70 645.10,411.88 644.43,412.03 643.76,412.15 643.09,412.23 642.42,412.28 641.75,412.30 641.08,412.29 640.41,412.25 639.74,412.17 639.07,412.06 638.40,411.91 637.73,411.74 637.06,411.53 636.39,411.29 635.72,411.01 635.05,410.71 634.38,410.37 633.71,410.00 633.04,409.60 632.37,409.17 631.70,408.70 631.03,408.21 630.36,407.69 629.69,407.14 629.02,406.57 628.35,405.96 627.68,405.33 627.01,404.68 626.34,404.00 625.67,403.30 625.00,402.58 624.33,401.84 623.66,401.09 622.99,400.32 622.32,399.53 621.65,398.75 620.98,397.95 620.31,397.16 619.64,396.38 618.97,395.60 618.30,394.85 617.63,394.13 616.96,393.45 616.29,392.83 615.62,392.27 614.95,391.80 614.28,391.42 613.61,391.15 612.94,391.00 612.26,390.97 611.59,391.06 610.92,391.25 610.25,391.55 609.58,391.93 608.91,392.38 608.24,392.90 607.57,393.47 606.90,394.08 606.23,394.73 605.56,395.40 604.89,396.09 604.22,396.80 603.55,397.52 602.88,398.25 602.21,398.98 601.54,399.72 600.87,400.46 600.20,401.19 599.53,401.93 598.86,402.65 598.19,403.37 597.52,404.08 596.85,404.79 596.18,405.48 595.51,406.16 594.84,406.83 594.17,407.49 593.50,408.14 592.83,408.77 592.16,409.38 591.49,409.98 590.82,410.57 590.15,411.13 589.48,411.68 588.81,412.22 588.14,412.74 587.47,413.23 586.80,413.71 586.13,414.18 585.46,414.62 584.79,415.04 584.12,415.45 583.45,415.84 582.78,416.20 582.11,416.55 581.44,416.88 580.77,417.19 580.10,417.48 579.43,417.75 578.76,418.00 578.09,418.23 577.42,418.44 576.75,418.63 576.08,418.81 575.41,418.96 574.74,419.10 574.06,419.21 573.39,419.31 572.72,419.40 572.05,419.46 571.38,419.51 570.71,419.53 570.04,419.55 569.37,419.54 568.70,419.52 568.03,419.49 567.36,419.44 566.69,419.37 566.02,419.29 565.35,419.20 564.68,419.09 564.01,418.97 563.34,418.83 562.67,418.69 562.00,418.53 561.33,418.36 560.66,418.18 559.99,417.99 559.32,417.79 558.65,417.58 557.98,417.37 557.31,417.14 556.64,416.91 555.97,416.67 555.30,416.43 554.63,416.18 553.96,415.92 553.29,415.66 552.62,415.40 551.95,415.13 551.28,414.86 550.61,414.59 549.94,414.32 549.27,414.04 548.60,413.77 547.93,413.49 547.26,413.22 546.59,412.95 545.92,412.68 545.25,412.41 544.58,412.14 543.91,411.88 543.24,411.62 542.57,411.37 541.90,411.12 541.23,410.88 540.56,410.64 539.89,410.41 539.22,410.19 538.55,409.98 537.88,409.77 537.21,409.57 536.54,409.38 535.86,409.20 535.19,409.03 534.52,408.87 533.85,408.72 533.18,408.58 532.51,408.45 531.84,408.34 531.17,408.24 530.50,408.14 529.83,408.07 529.16,408.00 528.49,407.95 527.82,407.92 527.15,407.90 526.48,407.89 525.81,407.90 525.14,407.92 524.47,407.97 523.80,408.02 523.13,408.10 522.46,408.19 521.79,408.30 521.12,408.43 520.45,408.58 519.78,408.74 519.11,408.93 518.44,409.13 517.77,409.36 517.10,409.61 516.43,409.88 515.76,410.18 515.09,410.49 514.42,410.83 513.75,411.20 513.08,411.59 512.41,412.00 511.74,412.44 511.07,412.90 510.40,413.39 509.73,413.90 509.06,414.43 508.39,414.98 507.72,415.55 507.05,416.14 506.38,416.75 505.71,417.37 505.04,418.01 504.37,418.65 503.70,419.30 503.03,419.96 502.36,420.62 501.69,421.27 501.02,421.93 500.35,422.58 499.68,423.23 499.01,423.87 498.34,424.50 497.66,425.11 496.99,425.72 496.32,426.31 495.65,426.88 494.98,427.44 494.31,427.99 493.64,428.51 492.97,429.02 492.30,429.51 491.63,429.98 490.96,430.44 490.29,430.87 489.62,431.28 488.95,431.68 488.28,432.05 487.61,432.41 486.94,432.75 486.27,433.07 485.60,433.37 484.93,433.65 484.26,433.92 483.59,434.17 482.92,434.40 482.25,434.62 481.58,434.83 480.91,435.01 480.24,435.19 479.57,435.35 478.90,435.50 478.23,435.64 477.56,435.76 476.89,435.88 476.22,435.99 475.55,436.09 474.88,436.18 474.21,436.27 473.54,436.35 472.87,436.43 472.20,436.50 471.53,436.57 470.86,436.63 470.19,436.70 469.52,436.76 468.85,436.83 468.18,436.89 467.51,436.96 466.84,437.03 466.17,437.10 465.50,437.18 464.83,437.26 464.16,437.34 463.49,437.43 462.82,437.53 462.15,437.63 461.48,437.75 460.81,437.86 460.14,437.99 459.46,438.13 458.79,438.27 458.12,438.42 457.45,438.58 456.78,438.76 456.11,438.94 455.44,439.13 454.77,439.33 454.10,439.55 453.43,439.77 452.76,440.01 452.09,440.26 451.42,440.52 450.75,440.80 450.08,441.09 449.41,441.39 448.74,441.70 448.07,442.03 447.40,442.37 446.73,442.73 446.06,443.10 445.39,443.49 444.72,443.89 444.05,444.31 443.38,444.74 442.71,445.20 442.04,445.66 441.37,446.15 440.70,446.65 440.03,447.17 439.36,447.71 438.69,448.26 438.02,448.83 437.35,449.43 436.68,450.04 436.01,450.67 435.34,451.32 434.67,451.98 434.00,452.67 433.33,453.38 432.66,454.11 431.99,454.85 431.32,455.62 430.65,456.40 429.98,457.21 429.31,458.03 428.64,458.88 427.97,459.74 427.30,460.63 426.63,461.53 425.96,462.45 425.29,463.39 424.62,464.35 423.95,465.33 423.28,466.33 422.61,467.34 421.94,468.37 421.26,469.42 420.59,470.49 419.92,471.57 419.25,472.67 418.58,473.78 417.91,474.92 417.24,476.06 416.57,477.23 415.90,478.41 415.23,479.60 414.56,480.81 413.89,482.03 413.22,483.27 412.55,484.53 411.88,485.80 411.21,487.09 410.54,488.39 409.87,489.71 409.20,491.05 408.53,492.41 407.86,493.79 407.19,495.19 406.52,496.60 405.85,498.04 405.18,499.51 404.51,500.99 403.84,502.50 403.17,504.04 402.50,505.60Z" fill="#ececb2"/>
<path d="M402.50,498.10 403.17,496.71 403.84,495.33 404.51,493.95 405.18,492.57 405.85,491.20 406.52,489.83 407.19,488.47 407.86,487.12 408.53,485.77 409.20,484.43 409.87,483.10 410.54,481.77 411.21,480.46 411.88,479.16 412.55,477.87 413.22,476.59 413.89,475.32 414.56,474.06 415.23,472.82 415.90,471.59 416.57,470.37 417.24,469.17 417.91,467.98 418.58,466.81 419.25,465.66 419.92,464.52 420.59,463.39 421.26,462.29 421.94,461.20 422.61,460.13 423.28,459.08 423.95,458.05 424.62,457.03 425.29,456.04 425.96,455.06 426.63,454.11 427.30,453.17 427.97,452.25 428.64,451.36 429.31,450.48 429.98,449.62 430.65,448.79 431.32,447.97 431.99,447.18 432.66,446.40 433.33,445.65 434.00,444.92 434.67,444.21 435.34,443.52 436.01,442.85 436.68,442.20 437.35,441.57 438.02,440.96 438.69,440.37 439.36,439.80 440.03,439.25 440.70,438.72 441.37,438.20 442.04,437.71 442.71,437.24 443.38,436.78 444.05,436.35 444.72,435.93 445.39,435.52 446.06,435.14 446.73,434.77 447.40,434.42 448.07,434.08 448.74,433.76 449.41,433.45 450.08,433.16 450.75,432.88 451.42,432.61 452.09,432.36 452.76,432.12 453.43,431.89 454.10,431.67 454.77,431.47 455.44,431.27 456.11,431.09 456.78,430.91 457.45,430.74 458.12,430.58 458.79,430.42 459.46,430.28 460.14,430.14 460.81,430.00 461.48,429.87 462.15,429.74 462.82,429.62 463.49,429.50 464.16,429.38 464.83,429.27 465.50,429.16 466.17,429.04 466.84,428.93 467.51,428.81 468.18,428.70 468.85,428.58 469.52,428.46 470.19,428.34 470.86,428.22 471.53,428.09 472.20,427.96 472.87,427.82 473.54,427.67 474.21,427.52 474.88,427.37 475.55,427.21 476.22,427.04 476.89,426.86 477.56,426.67 478.23,426.48 478.90,426.27 479.57,426.06 480.24,425.83 480.91,425.60 481.58,425.36 482.25,425.10 482.92,424.83 483.59,424.56 484.26,424.27 484.93,423.97 485.60,423.65 486.27,423.33 486.94,422.99 487.61,422.64 488.28,422.27 488.95,421.90 489.62,421.51 490.29,421.10 490.96,420.69 491.63,420.26 492.30,419.82 492.97,419.36 493.64,418.89 494.31,418.41 494.98,417.92 495.65,417.41 496.32,416.89 496.99,416.35 497.66,415.81 498.34,415.25 499.01,414.68 499.68,414.10 500.35,413.50 501.02,412.89 501.69,412.28 502.36,411.65 503.03,411.01 503.70,410.36 504.37,409.70 505.04,409.03 505.71,408.35 506.38,407.66 507.05,406.96 507.72,406.26 508.39,405.54 509.06,404.82 509.73,404.10 510.40,403.36 511.07,402.62 511.74,401.87 512.41,401.12 513.08,400.37 513.75,399.60 514.42,398.84 515.09,398.07 515.76,397.30 516.43,396.53 517.10,395.75 517.77,394.98 518.44,394.20 519.11,393.43 519.78,392.65 520.45,391.87 521.12,391.10 521.79,390.33 522.46,389.56 523.13,388.79 523.80,388.03 524.47,387.27 525.14,386.52 525.81,385.77 526.48,385.02 527.15,384.29 527.82,383.56 528.49,382.83 529.16,382.12 529.83,381.41 530.50,380.71 531.17,380.02 531.84,379.34 532.51,378.67 533.18,378.01 533.85,377.36 534.52,376.72 535.19,376.09 535.86,375.48 536.54,374.87 537.21,374.28 537.88,373.71 538.55,373.14 539.22,372.59 539.89,372.06 540.56,371.54 541.23,371.03 541.90,370.54 542.57,370.06 543.24,369.60 543.91,369.15 544.58,368.72 545.25,368.30 545.92,367.91 546.59,367.52 547.26,367.16 547.93,366.81 548.60,366.47 549.27,366.16 549.94,365.86 550.61,365.57 551.28,365.31 551.95,365.06 552.62,364.82 553.29,364.61 553.96,364.41 554.63,364.23 555.30,364.06 555.97,363.91 556.64,363.78 557.31,363.66 557.98,363.56 558.65,363.48 559.32,363.41 559.99,363.35 560.66,363.32 561.33,363.30 562.00,363.29 562.67,363.30 563.34,363.32 564.01,363.36 564.68,363.41 565.35,363.48 566.02,363.56 566.69,363.65 567.36,363.76 568.03,363.87 568.70,364.01 569.37,364.15 570.04,364.30 570.71,364.47 571.38,364.65 572.05,364.84 572.72,365.04 573.39,365.24 574.06,365.46 574.74,365.69 575.41,365.93 576.08,366.17 576.75,366.42 577.42,366.68 578.09,366.95 578.76,367.23 579.43,367.51 580.10,367.80 580.77,368.09 581.44,368.39 582.11,368.69 582.78,369.00 583.45,369.31 584.12,369.62 584.79,369.94 585.46,370.26 586.13,370.58 586.80,370.91 587.47,371.24 588.14,371.57 588.81,371.89 589.48,372.22 590.15,372.55 590.82,372.88 591.49,373.21 592.16,373.54 592.83,373.87 593.50,374.19 594.17,374.51 594.84,374.83 595.51,375.15 596.18,375.47 596.85,375.78 597.52,376.09 598.19,376.39 598.86,376.69 599.53,376.99 600.20,377.28 600.87,377.56 601.54,377.85 602.21,378.12 602.88,378.39 603.55,378.66 604.22,378.92 604.89,379.17 605.56,379.42 606.23,379.66 606.90,379.89 607.57,380.12 608.24,380.34 608.91,380.55 609.58,380.76 610.25,380.96 610.92,381.15 611.59,381.33 612.26,381.51 612.94,381.68 613.61,381.85 614.28,382.00 614.95,382.15 615.62,382.29 616.29,382.42 616.96,382.55 617.63,382.67 618.30,382.78 618.97,382.89 619.64,382.98 620.31,383.07 620.98,383.16 621.65,383.23 622.32,383.30 622.99,383.37 623.66,383.42 624.33,383.47 625.00,383.52 625.67,383.55 626.34,383.59 627.01,383.61 627.68,383.63 628.35,383.65 629.02,383.66 629.69,383.66 630.36,383.66 631.03,383.66 631.70,383.65 632.37,383.64 633.04,383.62 633.71,383.60 634.38,383.58 635.05,383.55 635.72,383.52 636.39,383.49 637.06,383.45 637.73,383.41 638.40,383.37 639.07,383.33 639.74,383.29 640.41,383.25 641.08,383.21 641.75,383.16 642.42,383.12 643.09,383.07 643.76,383.03 644.43,382.99 645.10,382.94 645.77,382.90 646.44,382.87 647.11,382.83 647.78,382.79 648.45,382.76 649.12,382.73 649.79,382.70 650.46,382.68 651.14,382.66 651.81,382.64 652.48,382.63 653.15,382.62 653.82,382.62 654.49,382.62 655.16,382.63 655.83,382.64 656.50,382.66 657.17,382.68 657.84,382.71 658.51,382.75 659.18,382.79 659.85,382.84 660.52,382.90 661.19,382.97 661.86,383.04 662.53,383.12 663.20,383.21 663.87,383.30 664.54,383.41 665.21,383.52 665.88,383.65 666.55,383.78 667.22,383.92 667.89,384.07 668.56,384.23 669.23,384.40 669.90,384.58" fill="none" stroke="#bfbf00" stroke-width="1.35" stroke-dasharray="5.0,2.05"/>
<circle cx="402.92" cy="497.80" r="2.35" fill="#ff0000"/>
<circle cx="405.16" cy="492.73" r="2.35" fill="#ff0000"/>
<circle cx="406.84" cy="490.30" r="2.35" fill="#ff0000"/>
<circle cx="408.66" cy="484.23" r="2.35" fill="#ff0000"/>
<circle cx="414.82" cy="470.66" r="2.35" fill="#ff0000"/>
<circle cx="421.40" cy="466.61" r="2.35" fill="#ff0000"/>
<circle cx="427.70" cy="451.42" r="2.35" fill="#ff0000"/>
<circle cx="454.86" cy="427.53" r="2.35" fill="#ff0000"/>
<circle cx="471.24" cy="431.98" r="2.35" fill="#ff0000"/>
<circle cx="507.50" cy="405.45" r="2.35" fill="#ff0000"/>
<circle cx="613.20" cy="381.76" r="2.35" fill="#ff0000"/>
<circle cx="669.90" cy="384.40" r="2.35" fill="#ff0000"/>
<rect x="586.60" y="301.50" width="91.80" height="29.30" rx="2" fill="#fff" fill-opacity="0.8" stroke="#dcdcdc" stroke-width="1"/>
<line x1="589.90" y1="309.10" x2="609.00" y2="309.10" stroke="#bfbf00" stroke-width="1.35" stroke-dasharray="5.0,2.05"/>
<circle cx="599.50" cy="322.80" r="2.35" fill="#ff0000"/>
<rect x="389.30" y="297.00" width="293.60" height="218.80" fill="none" stroke="#000" stroke-width="1.6"/>
<line x1="423.50" y1="515.80" x2="423.50" y2="509.20" stroke="#000" stroke-width="1.1"/>
<line x1="458.50" y1="515.80" x2="458.50" y2="509.20" stroke="#000" stroke-width="1.1"/>
<line x1="493.50" y1="515.80" x2="493.50" y2="509.20" stroke="#000" stroke-width="1.1"/>
<line x1="528.50" y1="515.80" x2="528.50" y2="509.20" stroke="#000" stroke-width="1.1"/>
<line x1="563.50" y1="515.80" x2="563.50" y2="509.20" stroke="#000" stroke-width="1.1"/>
<line x1="598.50" y1="515.80" x2="598.50" y2="509.20" stroke="#000" stroke-width="1.1"/>
<line x1="633.50" y1="515.80" x2="633.50" y2="509.20" stroke="#000" stroke-width="1.1"/>
<line x1="668.50" y1="515.80" x2="668.50" y2="509.20" stroke="#000" stroke-width="1.1"/>
<line x1="389.30" y1="506.30" x2="395.90" y2="506.30" stroke="#000" stroke-width="1.1"/>
<line x1="389.30" y1="465.80" x2="395.90" y2="465.80" stroke="#000" stroke-width="1.1"/>
<line x1="389.30" y1="425.30" x2="395.90" y2="425.30" stroke="#000" stroke-width="1.1"/>
<line x1="389.30" y1="384.80" x2="395.90" y2="384.80" stroke="#000" stroke-width="1.1"/>
<line x1="389.30" y1="344.30" x2="395.90" y2="344.30" stroke="#000" stroke-width="1.1"/>
<line x1="389.30" y1="303.80" x2="395.90" y2="303.80" stroke="#000" stroke-width="1.1"/>
<g style="will-change:transform" font-family='"Liberation Sans", sans-serif' fill="#000" stroke="#000" stroke-width="0.12">
<text x="263.39" y="35.85" font-size="9.60" textLength="25.28" lengthAdjust="spacingAndGlyphs">GP fit</text>
<text x="263.46" y="49.65" font-size="9.60" textLength="58.81" lengthAdjust="spacingAndGlyphs">observations</text>
<text x="48.20" y="250.70" font-size="10.40" text-anchor="middle" textLength="14.71" lengthAdjust="spacingAndGlyphs">0.0</text>
<text x="88.20" y="250.70" font-size="10.40" text-anchor="middle" textLength="14.71" lengthAdjust="spacingAndGlyphs">2.5</text>
<text x="128.20" y="250.70" font-size="10.40" text-anchor="middle" textLength="14.71" lengthAdjust="spacingAndGlyphs">5.0</text>
<text x="168.20" y="250.70" font-size="10.40" text-anchor="middle" textLength="14.71" lengthAdjust="spacingAndGlyphs">7.5</text>
<text x="208.20" y="250.70" font-size="10.40" text-anchor="middle" textLength="20.60" lengthAdjust="spacingAndGlyphs">10.0</text>
<text x="248.20" y="250.70" font-size="10.40" text-anchor="middle" textLength="20.60" lengthAdjust="spacingAndGlyphs">12.5</text>
<text x="288.20" y="250.70" font-size="10.40" text-anchor="middle" textLength="20.60" lengthAdjust="spacingAndGlyphs">15.0</text>
<text x="328.20" y="250.70" font-size="10.40" text-anchor="middle" textLength="20.60" lengthAdjust="spacingAndGlyphs">17.5</text>
<text x="31.70" y="220.40" font-size="10.40" text-anchor="end" textLength="14.71" lengthAdjust="spacingAndGlyphs">0.0</text>
<text x="31.70" y="183.22" font-size="10.40" text-anchor="end" textLength="14.71" lengthAdjust="spacingAndGlyphs">0.2</text>
<text x="31.70" y="146.04" font-size="10.40" text-anchor="end" textLength="14.71" lengthAdjust="spacingAndGlyphs">0.4</text>
<text x="31.70" y="108.86" font-size="10.40" text-anchor="end" textLength="14.71" lengthAdjust="spacingAndGlyphs">0.6</text>
<text x="31.70" y="71.68" font-size="10.40" text-anchor="end" textLength="14.71" lengthAdjust="spacingAndGlyphs">0.8</text>
<text x="31.70" y="34.50" font-size="10.40" text-anchor="end" textLength="14.71" lengthAdjust="spacingAndGlyphs">1.0</text>
<text x="169.93" y="264.70" font-size="11.50" textLength="7.14" lengthAdjust="spacingAndGlyphs">Z</text>
<text x="177.60" y="265.70" font-size="13.50" textLength="4.50" lengthAdjust="spacingAndGlyphs">/</text>
<text x="183.67" y="264.70" font-size="11.50" textLength="7.30" lengthAdjust="spacingAndGlyphs">R</text>
<text x="191.79" y="266.60" font-size="8.60" textLength="4.42" lengthAdjust="spacingAndGlyphs">0</text>
<g transform="translate(9.60,145.00) rotate(-90)"><text x="-0.18" y="0.00" font-size="11.50" textLength="7.78" lengthAdjust="spacingAndGlyphs">R</text><text x="8.20" y="2.20" font-size="7.90" textLength="1.49" lengthAdjust="spacingAndGlyphs" font-style="italic">j</text><text x="10.70" y="1.60" font-size="14.50" textLength="5.60" lengthAdjust="spacingAndGlyphs">/</text><text x="16.64" y="0.00" font-size="11.50" textLength="7.54" lengthAdjust="spacingAndGlyphs">R</text><text x="24.57" y="2.70" font-size="9.00" textLength="4.65" lengthAdjust="spacingAndGlyphs">0</text></g>
<text x="6.64" y="11.80" font-size="17.00" textLength="14.53" lengthAdjust="spacingAndGlyphs" font-family='"Liberation Serif", serif' font-weight="bold">a)</text>
<text x="615.39" y="35.80" font-size="9.60" textLength="25.28" lengthAdjust="spacingAndGlyphs">GP fit</text>
<text x="615.46" y="49.60" font-size="9.60" textLength="58.81" lengthAdjust="spacingAndGlyphs">observations</text>
<text x="400.30" y="250.70" font-size="10.40" text-anchor="middle" textLength="14.71" lengthAdjust="spacingAndGlyphs">0.0</text>
<text x="441.25" y="250.70" font-size="10.40" text-anchor="middle" textLength="14.71" lengthAdjust="spacingAndGlyphs">2.5</text>
<text x="482.20" y="250.70" font-size="10.40" text-anchor="middle" textLength="14.71" lengthAdjust="spacingAndGlyphs">5.0</text>
<text x="523.15" y="250.70" font-size="10.40" text-anchor="middle" textLength="14.71" lengthAdjust="spacingAndGlyphs">7.5</text>
<text x="564.10" y="250.70" font-size="10.40" text-anchor="middle" textLength="20.60" lengthAdjust="spacingAndGlyphs">10.0</text>
<text x="605.05" y="250.70" font-size="10.40" text-anchor="middle" textLength="20.60" lengthAdjust="spacingAndGlyphs">12.5</text>
<text x="646.00" y="250.70" font-size="10.40" text-anchor="middle" textLength="20.60" lengthAdjust="spacingAndGlyphs">15.0</text>
<text x="384.20" y="207.52" font-size="10.40" text-anchor="end" textLength="14.71" lengthAdjust="spacingAndGlyphs">0.2</text>
<text x="384.20" y="164.24" font-size="10.40" text-anchor="end" textLength="14.71" lengthAdjust="spacingAndGlyphs">0.4</text>
<text x="384.20" y="120.96" font-size="10.40" text-anchor="end" textLength="14.71" lengthAdjust="spacingAndGlyphs">0.6</text>
<text x="384.20" y="77.68" font-size="10.40" text-anchor="end" textLength="14.71" lengthAdjust="spacingAndGlyphs">0.8</text>
<text x="384.20" y="34.40" font-size="10.40" text-anchor="end" textLength="14.71" lengthAdjust="spacingAndGlyphs">1.0</text>
<text x="522.23" y="264.80" font-size="11.50" textLength="7.14" lengthAdjust="spacingAndGlyphs">Z</text>
<text x="529.90" y="265.80" font-size="13.50" textLength="4.50" lengthAdjust="spacingAndGlyphs">/</text>
<text x="535.97" y="264.80" font-size="11.50" textLength="7.30" lengthAdjust="spacingAndGlyphs">R</text>
<text x="544.09" y="266.70" font-size="8.60" textLength="4.42" lengthAdjust="spacingAndGlyphs">0</text>
<g transform="translate(361.70,145.30) rotate(-90)"><text x="-0.18" y="0.00" font-size="11.50" textLength="7.78" lengthAdjust="spacingAndGlyphs">R</text><text x="8.20" y="2.20" font-size="7.90" textLength="1.49" lengthAdjust="spacingAndGlyphs" font-style="italic">j</text><text x="10.70" y="1.60" font-size="14.50" textLength="5.60" lengthAdjust="spacingAndGlyphs">/</text><text x="16.64" y="0.00" font-size="11.50" textLength="7.54" lengthAdjust="spacingAndGlyphs">R</text><text x="24.57" y="2.70" font-size="9.00" textLength="4.65" lengthAdjust="spacingAndGlyphs">0</text></g>
<text x="364.98" y="11.80" font-size="17.00" textLength="15.27" lengthAdjust="spacingAndGlyphs" font-family='"Liberation Serif", serif' font-weight="bold">b)</text>
<text x="261.40" y="314.50" font-size="9.40" textLength="25.08" lengthAdjust="spacingAndGlyphs">GP fit</text>
<text x="261.47" y="327.30" font-size="9.40" textLength="58.51" lengthAdjust="spacingAndGlyphs">observations</text>
<text x="70.72" y="525.70" font-size="10.10" text-anchor="middle" textLength="14.63" lengthAdjust="spacingAndGlyphs">2.5</text>
<text x="105.43" y="525.70" font-size="10.10" text-anchor="middle" textLength="14.63" lengthAdjust="spacingAndGlyphs">5.0</text>
<text x="140.14" y="525.70" font-size="10.10" text-anchor="middle" textLength="14.63" lengthAdjust="spacingAndGlyphs">7.5</text>
<text x="174.86" y="525.70" font-size="10.10" text-anchor="middle" textLength="20.48" lengthAdjust="spacingAndGlyphs">10.0</text>
<text x="209.57" y="525.70" font-size="10.10" text-anchor="middle" textLength="20.48" lengthAdjust="spacingAndGlyphs">12.5</text>
<text x="244.29" y="525.70" font-size="10.10" text-anchor="middle" textLength="20.48" lengthAdjust="spacingAndGlyphs">15.0</text>
<text x="279.00" y="525.70" font-size="10.10" text-anchor="middle" textLength="20.48" lengthAdjust="spacingAndGlyphs">17.5</text>
<text x="313.72" y="525.70" font-size="10.10" text-anchor="middle" textLength="20.48" lengthAdjust="spacingAndGlyphs">20.0</text>
<text x="34.00" y="515.80" font-size="10.10" text-anchor="end" textLength="5.85" lengthAdjust="spacingAndGlyphs">0</text>
<text x="34.00" y="489.32" font-size="10.10" text-anchor="end" textLength="5.85" lengthAdjust="spacingAndGlyphs">1</text>
<text x="34.00" y="462.85" font-size="10.10" text-anchor="end" textLength="5.85" lengthAdjust="spacingAndGlyphs">2</text>
<text x="34.00" y="436.38" font-size="10.10" text-anchor="end" textLength="5.85" lengthAdjust="spacingAndGlyphs">3</text>
<text x="34.00" y="409.90" font-size="10.10" text-anchor="end" textLength="5.85" lengthAdjust="spacingAndGlyphs">4</text>
<text x="34.00" y="383.43" font-size="10.10" text-anchor="end" textLength="5.85" lengthAdjust="spacingAndGlyphs">5</text>
<text x="34.00" y="356.95" font-size="10.10" text-anchor="end" textLength="5.85" lengthAdjust="spacingAndGlyphs">6</text>
<text x="34.00" y="330.47" font-size="10.10" text-anchor="end" textLength="5.85" lengthAdjust="spacingAndGlyphs">7</text>
<text x="34.00" y="304.00" font-size="10.10" text-anchor="end" textLength="5.85" lengthAdjust="spacingAndGlyphs">8</text>
<text x="164.02" y="539.30" font-size="11.50" textLength="7.06" lengthAdjust="spacingAndGlyphs">U</text>
<text x="172.17" y="541.60" font-size="8.60" textLength="3.83" lengthAdjust="spacingAndGlyphs">c</text>
<text x="177.10" y="540.30" font-size="13.50" textLength="4.30" lengthAdjust="spacingAndGlyphs">/</text>
<text x="182.25" y="539.30" font-size="11.50" textLength="8.11" lengthAdjust="spacingAndGlyphs">V</text>
<text x="191.06" y="541.50" font-size="8.60" textLength="1.62" lengthAdjust="spacingAndGlyphs" font-style="italic">j</text>
<text x="192.85" y="541.50" font-size="8.60" textLength="8.60" lengthAdjust="spacingAndGlyphs">m</text>
<g transform="translate(22.40,428.30) rotate(-90)"><text x="-0.31" y="0.00" font-size="12.60" textLength="6.18" lengthAdjust="spacingAndGlyphs">L</text><text x="6.89" y="2.00" font-size="9.00" textLength="1.70" lengthAdjust="spacingAndGlyphs" font-style="italic">j</text><text x="9.77" y="0.00" font-size="12.60" textLength="3.63" lengthAdjust="spacingAndGlyphs">[</text><text x="15.06" y="0.00" font-size="12.60" textLength="10.58" lengthAdjust="spacingAndGlyphs">m</text><text x="26.26" y="0.00" font-size="12.60" textLength="10.58" lengthAdjust="spacingAndGlyphs">m</text><text x="38.20" y="0.00" font-size="12.60" textLength="3.63" lengthAdjust="spacingAndGlyphs">]</text></g>
<text x="10.63" y="281.00" font-size="17.00" textLength="13.01" lengthAdjust="spacingAndGlyphs" font-family='"Liberation Serif", serif' font-weight="bold">c)</text>
<text x="616.09" y="312.80" font-size="9.40" textLength="25.28" lengthAdjust="spacingAndGlyphs">GP fit</text>
<text x="616.17" y="325.50" font-size="9.40" textLength="58.40" lengthAdjust="spacingAndGlyphs">observations</text>
<text x="423.50" y="525.70" font-size="10.10" text-anchor="middle" textLength="14.63" lengthAdjust="spacingAndGlyphs">2.5</text>
<text x="458.50" y="525.70" font-size="10.10" text-anchor="middle" textLength="14.63" lengthAdjust="spacingAndGlyphs">5.0</text>
<text x="493.50" y="525.70" font-size="10.10" text-anchor="middle" textLength="14.63" lengthAdjust="spacingAndGlyphs">7.5</text>
<text x="528.50" y="525.70" font-size="10.10" text-anchor="middle" textLength="20.48" lengthAdjust="spacingAndGlyphs">10.0</text>
<text x="563.50" y="525.70" font-size="10.10" text-anchor="middle" textLength="20.48" lengthAdjust="spacingAndGlyphs">12.5</text>
<text x="598.50" y="525.70" font-size="10.10" text-anchor="middle" textLength="20.48" lengthAdjust="spacingAndGlyphs">15.0</text>
<text x="633.50" y="525.70" font-size="10.10" text-anchor="middle" textLength="20.48" lengthAdjust="spacingAndGlyphs">17.5</text>
<text x="668.50" y="525.70" font-size="10.10" text-anchor="middle" textLength="20.48" lengthAdjust="spacingAndGlyphs">20.0</text>
<text x="386.80" y="510.60" font-size="10.10" text-anchor="end" textLength="5.85" lengthAdjust="spacingAndGlyphs">0</text>
<text x="386.80" y="470.10" font-size="10.10" text-anchor="end" textLength="5.85" lengthAdjust="spacingAndGlyphs">2</text>
<text x="386.80" y="429.60" font-size="10.10" text-anchor="end" textLength="5.85" lengthAdjust="spacingAndGlyphs">4</text>
<text x="386.80" y="389.10" font-size="10.10" text-anchor="end" textLength="5.85" lengthAdjust="spacingAndGlyphs">6</text>
<text x="386.80" y="348.60" font-size="10.10" text-anchor="end" textLength="5.85" lengthAdjust="spacingAndGlyphs">8</text>
<text x="386.80" y="308.10" font-size="10.10" text-anchor="end" textLength="11.71" lengthAdjust="spacingAndGlyphs">10</text>
<text x="517.52" y="539.30" font-size="11.50" textLength="7.06" lengthAdjust="spacingAndGlyphs">U</text>
<text x="525.67" y="541.60" font-size="8.60" textLength="3.83" lengthAdjust="spacingAndGlyphs">c</text>
<text x="530.60" y="540.30" font-size="13.50" textLength="4.30" lengthAdjust="spacingAndGlyphs">/</text>
<text x="535.75" y="539.30" font-size="11.50" textLength="8.11" lengthAdjust="spacingAndGlyphs">V</text>
<text x="544.56" y="541.50" font-size="8.60" textLength="1.62" lengthAdjust="spacingAndGlyphs" font-style="italic">j</text>
<text x="546.35" y="541.50" font-size="8.60" textLength="8.60" lengthAdjust="spacingAndGlyphs">m</text>
<g transform="translate(368.50,426.30) rotate(-90)"><text x="-0.31" y="0.00" font-size="12.60" textLength="6.18" lengthAdjust="spacingAndGlyphs">L</text><text x="6.89" y="2.00" font-size="9.00" textLength="1.70" lengthAdjust="spacingAndGlyphs" font-style="italic">j</text><text x="9.77" y="0.00" font-size="12.60" textLength="3.63" lengthAdjust="spacingAndGlyphs">[</text><text x="15.06" y="0.00" font-size="12.60" textLength="10.58" lengthAdjust="spacingAndGlyphs">m</text><text x="26.26" y="0.00" font-size="12.60" textLength="10.58" lengthAdjust="spacingAndGlyphs">m</text><text x="38.20" y="0.00" font-size="12.60" textLength="3.63" lengthAdjust="spacingAndGlyphs">]</text></g>
<text x="367.48" y="281.30" font-size="17.00" textLength="15.69" lengthAdjust="spacingAndGlyphs" font-family='"Liberation Serif", serif' font-weight="bold">d)</text>
</g>
</g>
</svg></body></html>
